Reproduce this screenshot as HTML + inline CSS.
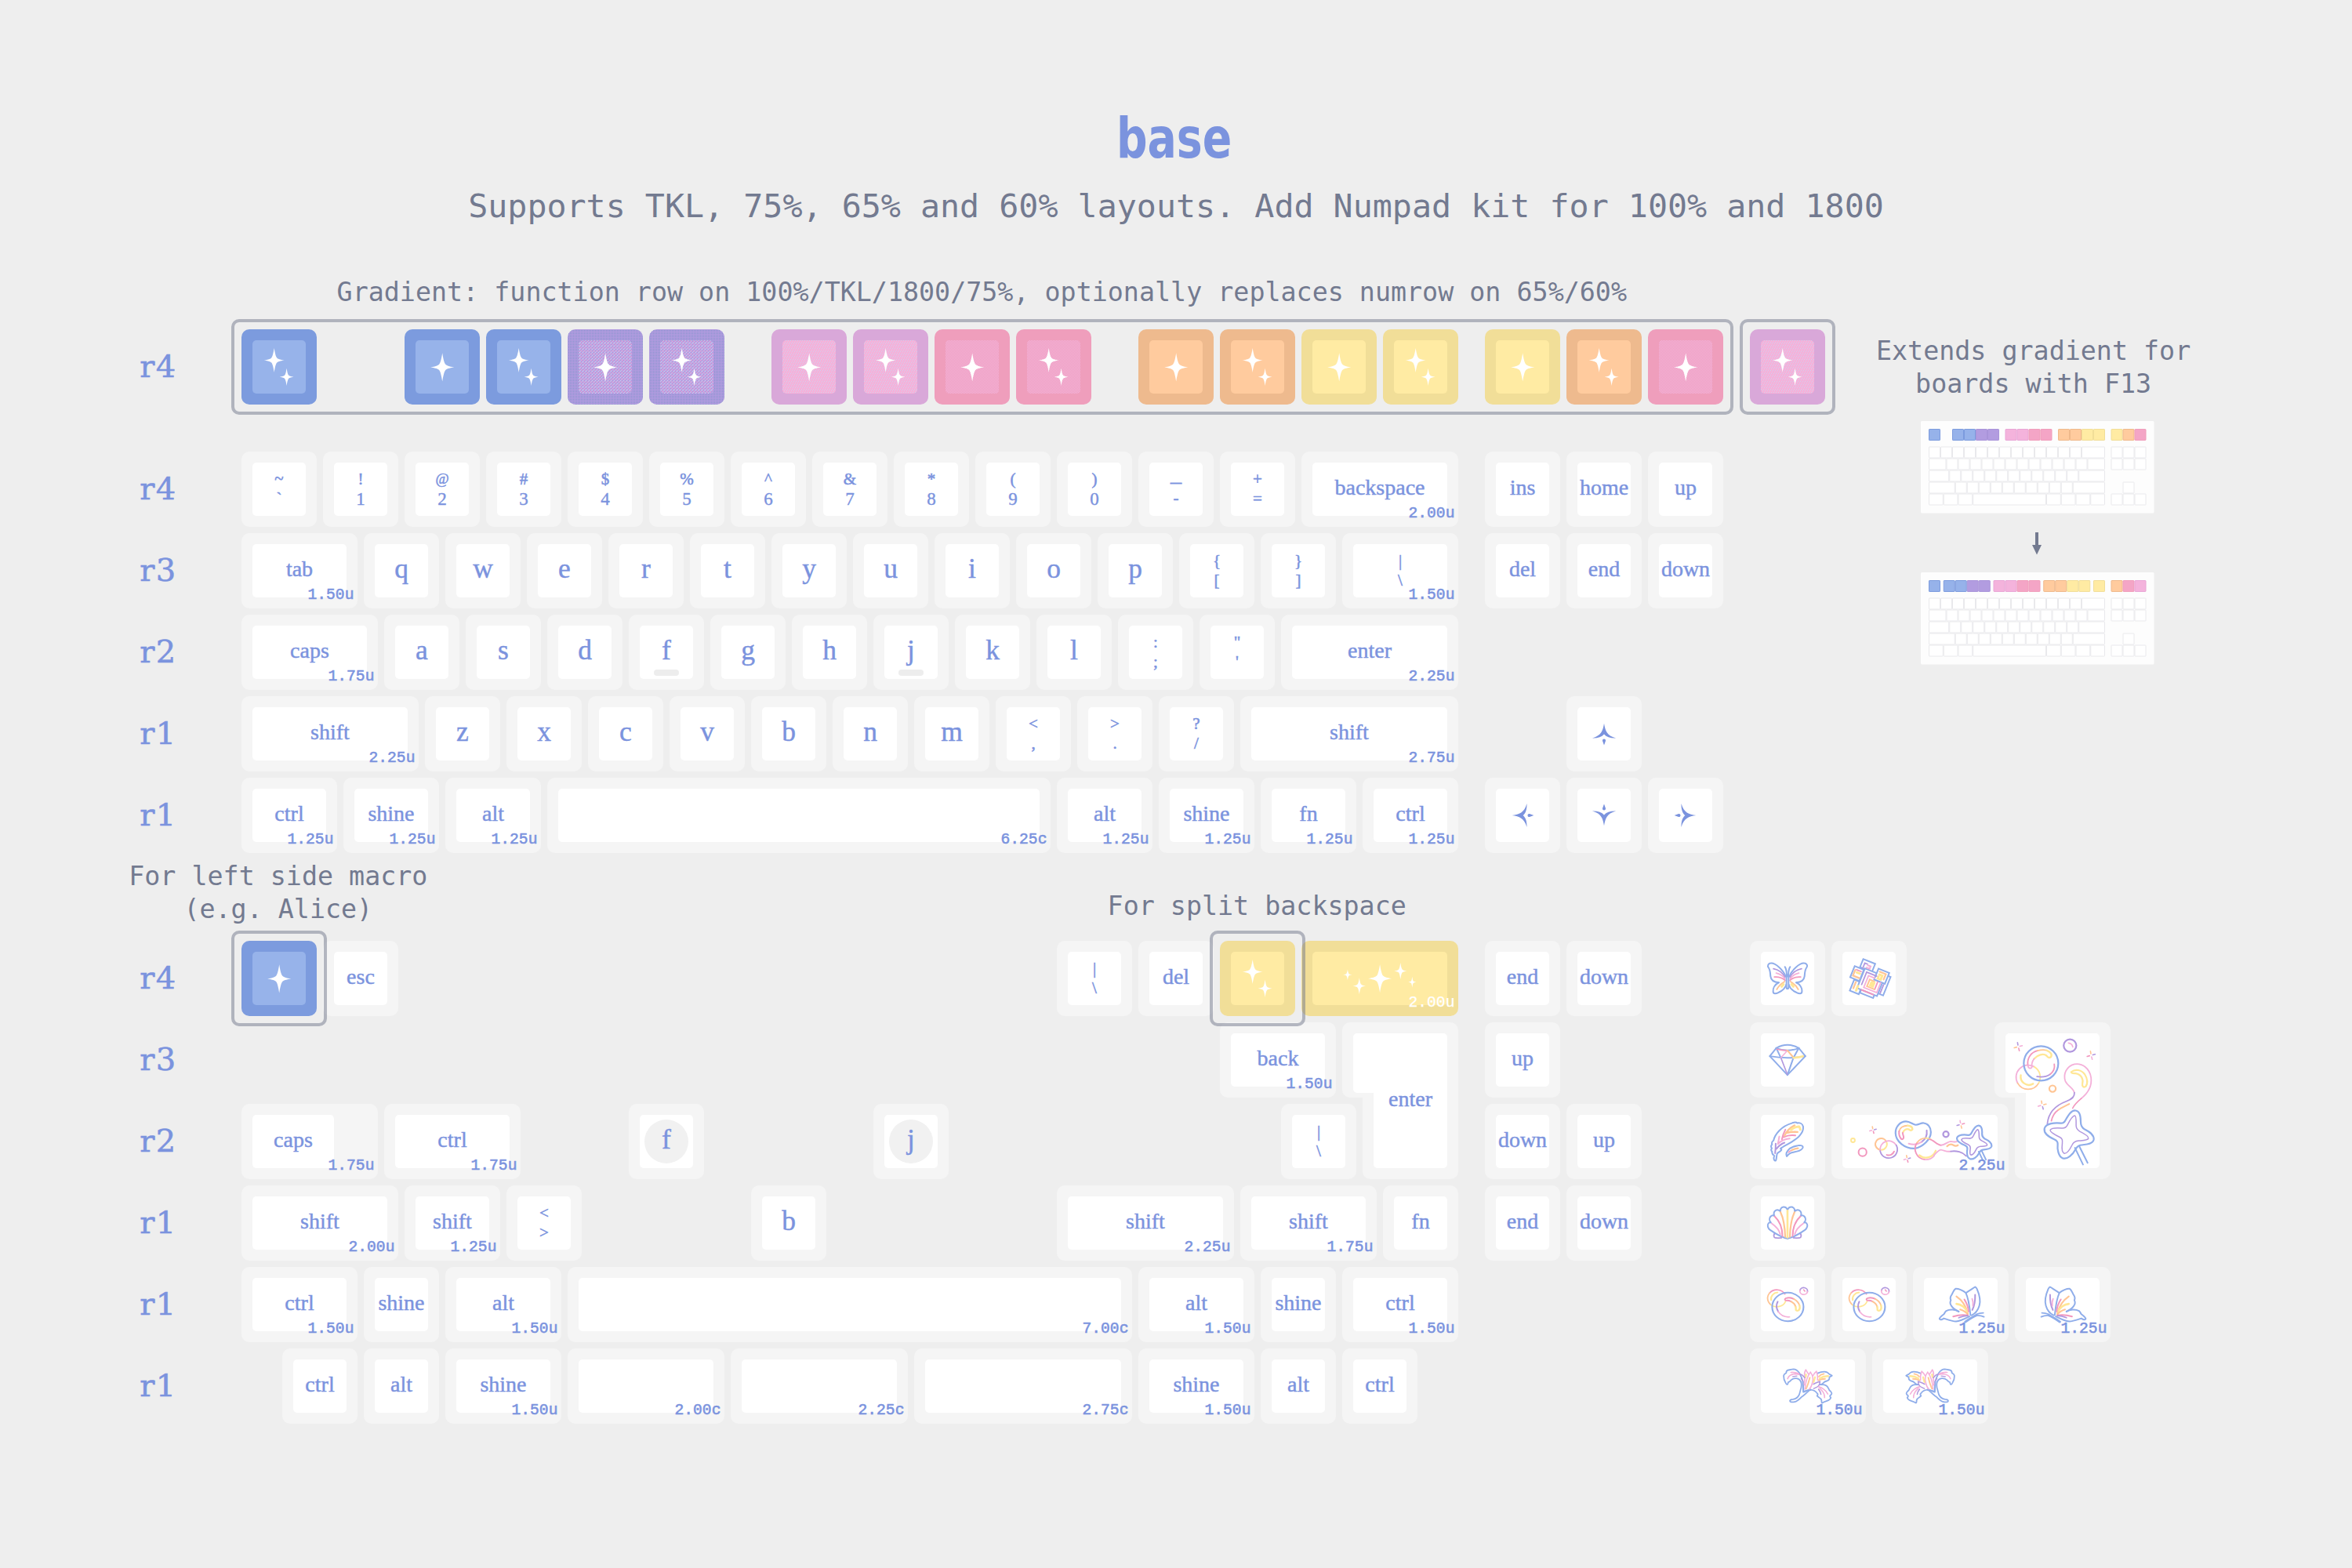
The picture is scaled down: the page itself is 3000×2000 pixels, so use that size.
<!DOCTYPE html>
<html lang="en"><head><meta charset="utf-8"><title>base</title>
<style>
html,body{margin:0;padding:0;background:#EEEEEE;}
body{width:3000px;height:2000px;overflow:hidden;}
svg{display:block;}
text{white-space:pre;}
</style></head><body>
<svg width="3000" height="2000" viewBox="0 0 3000 2000">
<defs>
<pattern id="dpo" width="4" height="4" patternUnits="userSpaceOnUse"><path d="M1 1h1v1h-1zM3 1h1v1h-1zM1 3h1v1h-1zM3 3h1v1h-1z" fill="#8495CC"/></pattern>
<pattern id="dpi" width="4" height="4" patternUnits="userSpaceOnUse"><path d="M0 0h1v1h-1zM2 2h1v1h-1zM3 1h1v1h-1z" fill="#C9D1F1"/><path d="M2 0h1v1h-1zM0 2h1v1h-1zM1 3h1v1h-1z" fill="#E8A6D6"/></pattern>
<pattern id="doi" width="3" height="6" patternUnits="userSpaceOnUse"><path d="M1 0h1v1h-1zM0 2h1v1h-1zM2 4h1v1h-1z" fill="#CBD6F1"/></pattern>
<pattern id="dki" width="2" height="2" patternUnits="userSpaceOnUse"><path d="M0 0h1v1h-1zM1 1h1v1h-1z" fill="#EF9EBC"/></pattern>
</defs>
<rect width="3000" height="2000" fill="#EEEEEE"/>
<g transform="translate(1497.6 0) scale(0.7705 1)"><text x="0" y="201.3" font-family='"DejaVu Sans", sans-serif' font-size="71.8" fill="#7B93DE" text-anchor="middle" font-weight="bold">base</text></g>
<text x="1500" y="276.6" font-family='"DejaVu Sans Mono", "Liberation Mono", monospace' font-size="41.67" fill="#737A90" text-anchor="middle">Supports TKL, 75%, 65% and 60% layouts. Add Numpad kit for 100% and 1800</text>
<text x="1252.3" y="383.6" font-family='"DejaVu Sans Mono", "Liberation Mono", monospace' font-size="33.33" fill="#737A90" text-anchor="middle">Gradient: function row on 100%/TKL/1800/75%, optionally replaces numrow on 65%/60%</text>
<text x="2593.6" y="459.3" font-family='"DejaVu Sans Mono", "Liberation Mono", monospace' font-size="33.33" fill="#737A90" text-anchor="middle">Extends gradient for</text>
<text x="2593.6" y="500.7" font-family='"DejaVu Sans Mono", "Liberation Mono", monospace' font-size="33.33" fill="#737A90" text-anchor="middle">boards with F13</text>
<text x="354.8" y="1129.2" font-family='"DejaVu Sans Mono", "Liberation Mono", monospace' font-size="33.33" fill="#737A90" text-anchor="middle">For left side macro</text>
<text x="354.8" y="1170.6" font-family='"DejaVu Sans Mono", "Liberation Mono", monospace' font-size="33.33" fill="#737A90" text-anchor="middle">(e.g. Alice)</text>
<text x="1603.2" y="1166.8" font-family='"DejaVu Sans Mono", "Liberation Mono", monospace' font-size="33.33" fill="#737A90" text-anchor="middle">For split backspace</text>
<text x="178.3" y="481" font-family='"DejaVu Serif", "Liberation Serif", serif' font-size="40" fill="#7B93DE" text-anchor="start" letter-spacing="1.4" stroke="#7B93DE" stroke-width="0.55">r4</text>
<text x="178.3" y="637" font-family='"DejaVu Serif", "Liberation Serif", serif' font-size="40" fill="#7B93DE" text-anchor="start" letter-spacing="1.4" stroke="#7B93DE" stroke-width="0.55">r4</text>
<text x="178.3" y="741" font-family='"DejaVu Serif", "Liberation Serif", serif' font-size="40" fill="#7B93DE" text-anchor="start" letter-spacing="1.4" stroke="#7B93DE" stroke-width="0.55">r3</text>
<text x="178.3" y="845" font-family='"DejaVu Serif", "Liberation Serif", serif' font-size="40" fill="#7B93DE" text-anchor="start" letter-spacing="1.4" stroke="#7B93DE" stroke-width="0.55">r2</text>
<text x="178.3" y="949" font-family='"DejaVu Serif", "Liberation Serif", serif' font-size="40" fill="#7B93DE" text-anchor="start" letter-spacing="1.4" stroke="#7B93DE" stroke-width="0.55">r1</text>
<text x="178.3" y="1053" font-family='"DejaVu Serif", "Liberation Serif", serif' font-size="40" fill="#7B93DE" text-anchor="start" letter-spacing="1.4" stroke="#7B93DE" stroke-width="0.55">r1</text>
<text x="178.3" y="1261" font-family='"DejaVu Serif", "Liberation Serif", serif' font-size="40" fill="#7B93DE" text-anchor="start" letter-spacing="1.4" stroke="#7B93DE" stroke-width="0.55">r4</text>
<text x="178.3" y="1365" font-family='"DejaVu Serif", "Liberation Serif", serif' font-size="40" fill="#7B93DE" text-anchor="start" letter-spacing="1.4" stroke="#7B93DE" stroke-width="0.55">r3</text>
<text x="178.3" y="1469" font-family='"DejaVu Serif", "Liberation Serif", serif' font-size="40" fill="#7B93DE" text-anchor="start" letter-spacing="1.4" stroke="#7B93DE" stroke-width="0.55">r2</text>
<text x="178.3" y="1573" font-family='"DejaVu Serif", "Liberation Serif", serif' font-size="40" fill="#7B93DE" text-anchor="start" letter-spacing="1.4" stroke="#7B93DE" stroke-width="0.55">r1</text>
<text x="178.3" y="1677" font-family='"DejaVu Serif", "Liberation Serif", serif' font-size="40" fill="#7B93DE" text-anchor="start" letter-spacing="1.4" stroke="#7B93DE" stroke-width="0.55">r1</text>
<text x="178.3" y="1781" font-family='"DejaVu Serif", "Liberation Serif", serif' font-size="40" fill="#7B93DE" text-anchor="start" letter-spacing="1.4" stroke="#7B93DE" stroke-width="0.55">r1</text>
<rect x="308" y="420" width="96" height="96" rx="10" fill="#7C9BDE"/>
<rect x="322" y="434" width="68" height="68" rx="5" fill="#97B3EA"/>
<path d="M349.7 444C350.6 449.5 351.6 454.6 353.2 456.4C354.4 457.6 356.9 458.75 362.7 459.5C356.9 460.25 354.4 461.4 353.2 462.6C351.6 464.4 350.6 469.5 349.7 475C348.8 469.5 347.8 464.4 346.2 462.6C345 461.4 342.5 460.25 336.7 459.5C342.5 458.75 345 457.6 346.2 456.4C347.8 454.6 348.8 449.5 349.7 444Z" fill="#FFFFFF"/>
<path d="M365.6 469.7C366.22 473.64 366.9 477.29 368 478.58C368.82 479.44 370.53 480.26 374.5 480.8C370.53 481.34 368.82 482.16 368 483.02C366.9 484.31 366.22 487.96 365.6 491.9C364.98 487.96 364.3 484.31 363.2 483.02C362.38 482.16 360.67 481.34 356.7 480.8C360.67 480.26 362.38 479.44 363.2 478.58C364.3 477.29 364.98 473.64 365.6 469.7Z" fill="#FFFFFF"/>
<rect x="516" y="420" width="96" height="96" rx="10" fill="#7C9BDE"/>
<rect x="530" y="434" width="68" height="68" rx="5" fill="#97B3EA"/>
<path d="M564.2 450.2C565.25 456.66 566.41 462.65 568.27 464.76C569.66 466.17 572.56 467.52 579.3 468.4C572.56 469.28 569.66 470.63 568.27 472.04C566.41 474.15 565.25 480.14 564.2 486.6C563.15 480.14 561.99 474.15 560.13 472.04C558.74 470.63 555.84 469.28 549.1 468.4C555.84 467.52 558.74 466.17 560.13 464.76C561.99 462.65 563.15 456.66 564.2 450.2Z" fill="#FFFFFF"/>
<rect x="620" y="420" width="96" height="96" rx="10" fill="#7C9BDE"/>
<rect x="634" y="434" width="68" height="68" rx="5" fill="#97B3EA"/>
<path d="M661.7 444C662.6 449.5 663.6 454.6 665.2 456.4C666.4 457.6 668.9 458.75 674.7 459.5C668.9 460.25 666.4 461.4 665.2 462.6C663.6 464.4 662.6 469.5 661.7 475C660.8 469.5 659.8 464.4 658.2 462.6C657 461.4 654.5 460.25 648.7 459.5C654.5 458.75 657 457.6 658.2 456.4C659.8 454.6 660.8 449.5 661.7 444Z" fill="#FFFFFF"/>
<path d="M677.6 469.7C678.22 473.64 678.9 477.29 680 478.58C680.82 479.44 682.53 480.26 686.5 480.8C682.53 481.34 680.82 482.16 680 483.02C678.9 484.31 678.22 487.96 677.6 491.9C676.98 487.96 676.3 484.31 675.2 483.02C674.38 482.16 672.67 481.34 668.7 480.8C672.67 480.26 674.38 479.44 675.2 478.58C676.3 477.29 676.98 473.64 677.6 469.7Z" fill="#FFFFFF"/>
<rect x="724" y="420" width="96" height="96" rx="10" fill="#B39BE0"/>
<rect x="724" y="420" width="96" height="96" rx="10" fill="url(#dpo)"/>
<rect x="738" y="434" width="68" height="68" rx="5" fill="#B39BE0"/>
<rect x="738" y="434" width="68" height="68" rx="5" fill="url(#dpi)"/>
<path d="M772.2 450.2C773.25 456.66 774.41 462.65 776.27 464.76C777.66 466.17 780.56 467.52 787.3 468.4C780.56 469.28 777.66 470.63 776.27 472.04C774.41 474.15 773.25 480.14 772.2 486.6C771.15 480.14 769.99 474.15 768.13 472.04C766.74 470.63 763.84 469.28 757.1 468.4C763.84 467.52 766.74 466.17 768.13 464.76C769.99 462.65 771.15 456.66 772.2 450.2Z" fill="#FFFFFF"/>
<rect x="828" y="420" width="96" height="96" rx="10" fill="#B39BE0"/>
<rect x="828" y="420" width="96" height="96" rx="10" fill="url(#dpo)"/>
<rect x="842" y="434" width="68" height="68" rx="5" fill="#B39BE0"/>
<rect x="842" y="434" width="68" height="68" rx="5" fill="url(#dpi)"/>
<path d="M869.7 444C870.6 449.5 871.6 454.6 873.2 456.4C874.4 457.6 876.9 458.75 882.7 459.5C876.9 460.25 874.4 461.4 873.2 462.6C871.6 464.4 870.6 469.5 869.7 475C868.8 469.5 867.8 464.4 866.2 462.6C865 461.4 862.5 460.25 856.7 459.5C862.5 458.75 865 457.6 866.2 456.4C867.8 454.6 868.8 449.5 869.7 444Z" fill="#FFFFFF"/>
<path d="M885.6 469.7C886.22 473.64 886.9 477.29 888 478.58C888.82 479.44 890.53 480.26 894.5 480.8C890.53 481.34 888.82 482.16 888 483.02C886.9 484.31 886.22 487.96 885.6 491.9C884.98 487.96 884.3 484.31 883.2 483.02C882.38 482.16 880.67 481.34 876.7 480.8C880.67 480.26 882.38 479.44 883.2 478.58C884.3 477.29 884.98 473.64 885.6 469.7Z" fill="#FFFFFF"/>
<rect x="984" y="420" width="96" height="96" rx="10" fill="#D9A8D9"/>
<rect x="998" y="434" width="68" height="68" rx="5" fill="#F6B0D9"/>
<rect x="998" y="434" width="68" height="68" rx="5" fill="url(#doi)"/>
<path d="M1032.2 450.2C1033.25 456.66 1034.41 462.65 1036.27 464.76C1037.66 466.17 1040.56 467.52 1047.3 468.4C1040.56 469.28 1037.66 470.63 1036.27 472.04C1034.41 474.15 1033.25 480.14 1032.2 486.6C1031.15 480.14 1029.99 474.15 1028.13 472.04C1026.74 470.63 1023.84 469.28 1017.1 468.4C1023.84 467.52 1026.74 466.17 1028.13 464.76C1029.99 462.65 1031.15 456.66 1032.2 450.2Z" fill="#FFFFFF"/>
<rect x="1088" y="420" width="96" height="96" rx="10" fill="#D9A8D9"/>
<rect x="1102" y="434" width="68" height="68" rx="5" fill="#F6B0D9"/>
<rect x="1102" y="434" width="68" height="68" rx="5" fill="url(#doi)"/>
<path d="M1129.7 444C1130.6 449.5 1131.6 454.6 1133.2 456.4C1134.4 457.6 1136.9 458.75 1142.7 459.5C1136.9 460.25 1134.4 461.4 1133.2 462.6C1131.6 464.4 1130.6 469.5 1129.7 475C1128.8 469.5 1127.8 464.4 1126.2 462.6C1125 461.4 1122.5 460.25 1116.7 459.5C1122.5 458.75 1125 457.6 1126.2 456.4C1127.8 454.6 1128.8 449.5 1129.7 444Z" fill="#FFFFFF"/>
<path d="M1145.6 469.7C1146.22 473.64 1146.9 477.29 1148 478.58C1148.82 479.44 1150.53 480.26 1154.5 480.8C1150.53 481.34 1148.82 482.16 1148 483.02C1146.9 484.31 1146.22 487.96 1145.6 491.9C1144.98 487.96 1144.3 484.31 1143.2 483.02C1142.38 482.16 1140.67 481.34 1136.7 480.8C1140.67 480.26 1142.38 479.44 1143.2 478.58C1144.3 477.29 1144.98 473.64 1145.6 469.7Z" fill="#FFFFFF"/>
<rect x="1192" y="420" width="96" height="96" rx="10" fill="#EF9EBC"/>
<rect x="1206" y="434" width="68" height="68" rx="5" fill="#F3B3DC"/>
<rect x="1206" y="434" width="68" height="68" rx="5" fill="url(#dki)"/>
<path d="M1240.2 450.2C1241.25 456.66 1242.41 462.65 1244.27 464.76C1245.66 466.17 1248.56 467.52 1255.3 468.4C1248.56 469.28 1245.66 470.63 1244.27 472.04C1242.41 474.15 1241.25 480.14 1240.2 486.6C1239.15 480.14 1237.99 474.15 1236.13 472.04C1234.74 470.63 1231.84 469.28 1225.1 468.4C1231.84 467.52 1234.74 466.17 1236.13 464.76C1237.99 462.65 1239.15 456.66 1240.2 450.2Z" fill="#FFFFFF"/>
<rect x="1296" y="420" width="96" height="96" rx="10" fill="#EF9EBC"/>
<rect x="1310" y="434" width="68" height="68" rx="5" fill="#F3B3DC"/>
<rect x="1310" y="434" width="68" height="68" rx="5" fill="url(#dki)"/>
<path d="M1337.7 444C1338.6 449.5 1339.6 454.6 1341.2 456.4C1342.4 457.6 1344.9 458.75 1350.7 459.5C1344.9 460.25 1342.4 461.4 1341.2 462.6C1339.6 464.4 1338.6 469.5 1337.7 475C1336.8 469.5 1335.8 464.4 1334.2 462.6C1333 461.4 1330.5 460.25 1324.7 459.5C1330.5 458.75 1333 457.6 1334.2 456.4C1335.8 454.6 1336.8 449.5 1337.7 444Z" fill="#FFFFFF"/>
<path d="M1353.6 469.7C1354.22 473.64 1354.9 477.29 1356 478.58C1356.82 479.44 1358.53 480.26 1362.5 480.8C1358.53 481.34 1356.82 482.16 1356 483.02C1354.9 484.31 1354.22 487.96 1353.6 491.9C1352.98 487.96 1352.3 484.31 1351.2 483.02C1350.38 482.16 1348.67 481.34 1344.7 480.8C1348.67 480.26 1350.38 479.44 1351.2 478.58C1352.3 477.29 1352.98 473.64 1353.6 469.7Z" fill="#FFFFFF"/>
<rect x="1452" y="420" width="96" height="96" rx="10" fill="#EEBA8E"/>
<rect x="1466" y="434" width="68" height="68" rx="5" fill="#FFCB9E"/>
<path d="M1500.2 450.2C1501.25 456.66 1502.41 462.65 1504.27 464.76C1505.66 466.17 1508.56 467.52 1515.3 468.4C1508.56 469.28 1505.66 470.63 1504.27 472.04C1502.41 474.15 1501.25 480.14 1500.2 486.6C1499.15 480.14 1497.99 474.15 1496.13 472.04C1494.74 470.63 1491.84 469.28 1485.1 468.4C1491.84 467.52 1494.74 466.17 1496.13 464.76C1497.99 462.65 1499.15 456.66 1500.2 450.2Z" fill="#FFFFFF"/>
<rect x="1556" y="420" width="96" height="96" rx="10" fill="#EEBA8E"/>
<rect x="1570" y="434" width="68" height="68" rx="5" fill="#FFCB9E"/>
<path d="M1597.7 444C1598.6 449.5 1599.6 454.6 1601.2 456.4C1602.4 457.6 1604.9 458.75 1610.7 459.5C1604.9 460.25 1602.4 461.4 1601.2 462.6C1599.6 464.4 1598.6 469.5 1597.7 475C1596.8 469.5 1595.8 464.4 1594.2 462.6C1593 461.4 1590.5 460.25 1584.7 459.5C1590.5 458.75 1593 457.6 1594.2 456.4C1595.8 454.6 1596.8 449.5 1597.7 444Z" fill="#FFFFFF"/>
<path d="M1613.6 469.7C1614.22 473.64 1614.9 477.29 1616 478.58C1616.82 479.44 1618.53 480.26 1622.5 480.8C1618.53 481.34 1616.82 482.16 1616 483.02C1614.9 484.31 1614.22 487.96 1613.6 491.9C1612.98 487.96 1612.3 484.31 1611.2 483.02C1610.38 482.16 1608.67 481.34 1604.7 480.8C1608.67 480.26 1610.38 479.44 1611.2 478.58C1612.3 477.29 1612.98 473.64 1613.6 469.7Z" fill="#FFFFFF"/>
<rect x="1660" y="420" width="96" height="96" rx="10" fill="#F1DE98"/>
<rect x="1674" y="434" width="68" height="68" rx="5" fill="#FFEBA3"/>
<path d="M1708.2 450.2C1709.25 456.66 1710.41 462.65 1712.27 464.76C1713.66 466.17 1716.56 467.52 1723.3 468.4C1716.56 469.28 1713.66 470.63 1712.27 472.04C1710.41 474.15 1709.25 480.14 1708.2 486.6C1707.15 480.14 1705.99 474.15 1704.13 472.04C1702.74 470.63 1699.84 469.28 1693.1 468.4C1699.84 467.52 1702.74 466.17 1704.13 464.76C1705.99 462.65 1707.15 456.66 1708.2 450.2Z" fill="#FFFFFF"/>
<rect x="1764" y="420" width="96" height="96" rx="10" fill="#F1DE98"/>
<rect x="1778" y="434" width="68" height="68" rx="5" fill="#FFEBA3"/>
<path d="M1805.7 444C1806.6 449.5 1807.6 454.6 1809.2 456.4C1810.4 457.6 1812.9 458.75 1818.7 459.5C1812.9 460.25 1810.4 461.4 1809.2 462.6C1807.6 464.4 1806.6 469.5 1805.7 475C1804.8 469.5 1803.8 464.4 1802.2 462.6C1801 461.4 1798.5 460.25 1792.7 459.5C1798.5 458.75 1801 457.6 1802.2 456.4C1803.8 454.6 1804.8 449.5 1805.7 444Z" fill="#FFFFFF"/>
<path d="M1821.6 469.7C1822.22 473.64 1822.9 477.29 1824 478.58C1824.82 479.44 1826.53 480.26 1830.5 480.8C1826.53 481.34 1824.82 482.16 1824 483.02C1822.9 484.31 1822.22 487.96 1821.6 491.9C1820.98 487.96 1820.3 484.31 1819.2 483.02C1818.38 482.16 1816.67 481.34 1812.7 480.8C1816.67 480.26 1818.38 479.44 1819.2 478.58C1820.3 477.29 1820.98 473.64 1821.6 469.7Z" fill="#FFFFFF"/>
<rect x="1894" y="420" width="96" height="96" rx="10" fill="#F1DE98"/>
<rect x="1908" y="434" width="68" height="68" rx="5" fill="#FFEBA3"/>
<path d="M1942.2 450.2C1943.25 456.66 1944.41 462.65 1946.27 464.76C1947.66 466.17 1950.56 467.52 1957.3 468.4C1950.56 469.28 1947.66 470.63 1946.27 472.04C1944.41 474.15 1943.25 480.14 1942.2 486.6C1941.15 480.14 1939.99 474.15 1938.13 472.04C1936.74 470.63 1933.84 469.28 1927.1 468.4C1933.84 467.52 1936.74 466.17 1938.13 464.76C1939.99 462.65 1941.15 456.66 1942.2 450.2Z" fill="#FFFFFF"/>
<rect x="1998" y="420" width="96" height="96" rx="10" fill="#EEBA8E"/>
<rect x="2012" y="434" width="68" height="68" rx="5" fill="#FFCB9E"/>
<path d="M2039.7 444C2040.6 449.5 2041.6 454.6 2043.2 456.4C2044.4 457.6 2046.9 458.75 2052.7 459.5C2046.9 460.25 2044.4 461.4 2043.2 462.6C2041.6 464.4 2040.6 469.5 2039.7 475C2038.8 469.5 2037.8 464.4 2036.2 462.6C2035 461.4 2032.5 460.25 2026.7 459.5C2032.5 458.75 2035 457.6 2036.2 456.4C2037.8 454.6 2038.8 449.5 2039.7 444Z" fill="#FFFFFF"/>
<path d="M2055.6 469.7C2056.22 473.64 2056.9 477.29 2058 478.58C2058.82 479.44 2060.53 480.26 2064.5 480.8C2060.53 481.34 2058.82 482.16 2058 483.02C2056.9 484.31 2056.22 487.96 2055.6 491.9C2054.98 487.96 2054.3 484.31 2053.2 483.02C2052.38 482.16 2050.67 481.34 2046.7 480.8C2050.67 480.26 2052.38 479.44 2053.2 478.58C2054.3 477.29 2054.98 473.64 2055.6 469.7Z" fill="#FFFFFF"/>
<rect x="2102" y="420" width="96" height="96" rx="10" fill="#EF9EBC"/>
<rect x="2116" y="434" width="68" height="68" rx="5" fill="#F3B3DC"/>
<rect x="2116" y="434" width="68" height="68" rx="5" fill="url(#dki)"/>
<path d="M2150.2 450.2C2151.25 456.66 2152.41 462.65 2154.27 464.76C2155.66 466.17 2158.56 467.52 2165.3 468.4C2158.56 469.28 2155.66 470.63 2154.27 472.04C2152.41 474.15 2151.25 480.14 2150.2 486.6C2149.15 480.14 2147.99 474.15 2146.13 472.04C2144.74 470.63 2141.84 469.28 2135.1 468.4C2141.84 467.52 2144.74 466.17 2146.13 464.76C2147.99 462.65 2149.15 456.66 2150.2 450.2Z" fill="#FFFFFF"/>
<rect x="2232" y="420" width="96" height="96" rx="10" fill="#D9A8D9"/>
<rect x="2246" y="434" width="68" height="68" rx="5" fill="#F6B0D9"/>
<rect x="2246" y="434" width="68" height="68" rx="5" fill="url(#doi)"/>
<path d="M2273.7 444C2274.6 449.5 2275.6 454.6 2277.2 456.4C2278.4 457.6 2280.9 458.75 2286.7 459.5C2280.9 460.25 2278.4 461.4 2277.2 462.6C2275.6 464.4 2274.6 469.5 2273.7 475C2272.8 469.5 2271.8 464.4 2270.2 462.6C2269 461.4 2266.5 460.25 2260.7 459.5C2266.5 458.75 2269 457.6 2270.2 456.4C2271.8 454.6 2272.8 449.5 2273.7 444Z" fill="#FFFFFF"/>
<path d="M2289.6 469.7C2290.22 473.64 2290.9 477.29 2292 478.58C2292.82 479.44 2294.53 480.26 2298.5 480.8C2294.53 481.34 2292.82 482.16 2292 483.02C2290.9 484.31 2290.22 487.96 2289.6 491.9C2288.98 487.96 2288.3 484.31 2287.2 483.02C2286.38 482.16 2284.67 481.34 2280.7 480.8C2284.67 480.26 2286.38 479.44 2287.2 478.58C2288.3 477.29 2288.98 473.64 2289.6 469.7Z" fill="#FFFFFF"/>
<rect x="308" y="576" width="96" height="96" rx="10" fill="#F5F5F5"/>
<rect x="322" y="590" width="68" height="68" rx="5" fill="#FFFFFF"/>
<text x="356" y="616.9" font-family='"Liberation Serif", serif' font-size="21" fill="#7B93DE" text-anchor="middle" stroke="#7B93DE" stroke-width="0.55">~</text>
<text x="356" y="643.4" font-family='"Liberation Serif", serif' font-size="21" fill="#7B93DE" text-anchor="middle" stroke="#7B93DE" stroke-width="0.55">`</text>
<rect x="412" y="576" width="96" height="96" rx="10" fill="#F5F5F5"/>
<rect x="426" y="590" width="68" height="68" rx="5" fill="#FFFFFF"/>
<text x="460" y="618.4" font-family='"Liberation Serif", serif' font-size="21" fill="#7B93DE" text-anchor="middle" stroke="#7B93DE" stroke-width="0.55">!</text>
<text x="460" y="644" font-family='"Liberation Serif", serif' font-size="23" fill="#7B93DE" text-anchor="middle" stroke="#7B93DE" stroke-width="0.4">1</text>
<rect x="516" y="576" width="96" height="96" rx="10" fill="#F5F5F5"/>
<rect x="530" y="590" width="68" height="68" rx="5" fill="#FFFFFF"/>
<text x="564" y="617.2" font-family='"Liberation Serif", serif' font-size="18.6" fill="#7B93DE" text-anchor="middle" stroke="#7B93DE" stroke-width="0.55">@</text>
<text x="564" y="644" font-family='"Liberation Serif", serif' font-size="23" fill="#7B93DE" text-anchor="middle" stroke="#7B93DE" stroke-width="0.4">2</text>
<rect x="620" y="576" width="96" height="96" rx="10" fill="#F5F5F5"/>
<rect x="634" y="590" width="68" height="68" rx="5" fill="#FFFFFF"/>
<text x="668" y="618.4" font-family='"Liberation Serif", serif' font-size="21" fill="#7B93DE" text-anchor="middle" stroke="#7B93DE" stroke-width="0.55">#</text>
<text x="668" y="644" font-family='"Liberation Serif", serif' font-size="23" fill="#7B93DE" text-anchor="middle" stroke="#7B93DE" stroke-width="0.4">3</text>
<rect x="724" y="576" width="96" height="96" rx="10" fill="#F5F5F5"/>
<rect x="738" y="590" width="68" height="68" rx="5" fill="#FFFFFF"/>
<text x="772" y="618.4" font-family='"Liberation Serif", serif' font-size="21" fill="#7B93DE" text-anchor="middle" stroke="#7B93DE" stroke-width="0.55">$</text>
<text x="772" y="644" font-family='"Liberation Serif", serif' font-size="23" fill="#7B93DE" text-anchor="middle" stroke="#7B93DE" stroke-width="0.4">4</text>
<rect x="828" y="576" width="96" height="96" rx="10" fill="#F5F5F5"/>
<rect x="842" y="590" width="68" height="68" rx="5" fill="#FFFFFF"/>
<text x="876" y="618.4" font-family='"Liberation Serif", serif' font-size="21" fill="#7B93DE" text-anchor="middle" stroke="#7B93DE" stroke-width="0.55">%</text>
<text x="876" y="644" font-family='"Liberation Serif", serif' font-size="23" fill="#7B93DE" text-anchor="middle" stroke="#7B93DE" stroke-width="0.4">5</text>
<rect x="932" y="576" width="96" height="96" rx="10" fill="#F5F5F5"/>
<rect x="946" y="590" width="68" height="68" rx="5" fill="#FFFFFF"/>
<text x="980" y="618.4" font-family='"Liberation Serif", serif' font-size="21" fill="#7B93DE" text-anchor="middle" stroke="#7B93DE" stroke-width="0.55">^</text>
<text x="980" y="644" font-family='"Liberation Serif", serif' font-size="23" fill="#7B93DE" text-anchor="middle" stroke="#7B93DE" stroke-width="0.4">6</text>
<rect x="1036" y="576" width="96" height="96" rx="10" fill="#F5F5F5"/>
<rect x="1050" y="590" width="68" height="68" rx="5" fill="#FFFFFF"/>
<text x="1084" y="618.4" font-family='"Liberation Serif", serif' font-size="21" fill="#7B93DE" text-anchor="middle" stroke="#7B93DE" stroke-width="0.55">&amp;</text>
<text x="1084" y="644" font-family='"Liberation Serif", serif' font-size="23" fill="#7B93DE" text-anchor="middle" stroke="#7B93DE" stroke-width="0.4">7</text>
<rect x="1140" y="576" width="96" height="96" rx="10" fill="#F5F5F5"/>
<rect x="1154" y="590" width="68" height="68" rx="5" fill="#FFFFFF"/>
<text x="1188" y="618.4" font-family='"Liberation Serif", serif' font-size="21" fill="#7B93DE" text-anchor="middle" stroke="#7B93DE" stroke-width="0.55">*</text>
<text x="1188" y="644" font-family='"Liberation Serif", serif' font-size="23" fill="#7B93DE" text-anchor="middle" stroke="#7B93DE" stroke-width="0.4">8</text>
<rect x="1244" y="576" width="96" height="96" rx="10" fill="#F5F5F5"/>
<rect x="1258" y="590" width="68" height="68" rx="5" fill="#FFFFFF"/>
<text x="1292" y="618.4" font-family='"Liberation Serif", serif' font-size="21" fill="#7B93DE" text-anchor="middle" stroke="#7B93DE" stroke-width="0.55">(</text>
<text x="1292" y="644" font-family='"Liberation Serif", serif' font-size="23" fill="#7B93DE" text-anchor="middle" stroke="#7B93DE" stroke-width="0.4">9</text>
<rect x="1348" y="576" width="96" height="96" rx="10" fill="#F5F5F5"/>
<rect x="1362" y="590" width="68" height="68" rx="5" fill="#FFFFFF"/>
<text x="1396" y="618.4" font-family='"Liberation Serif", serif' font-size="21" fill="#7B93DE" text-anchor="middle" stroke="#7B93DE" stroke-width="0.55">)</text>
<text x="1396" y="644" font-family='"Liberation Serif", serif' font-size="23" fill="#7B93DE" text-anchor="middle" stroke="#7B93DE" stroke-width="0.4">0</text>
<rect x="1452" y="576" width="96" height="96" rx="10" fill="#F5F5F5"/>
<rect x="1466" y="590" width="68" height="68" rx="5" fill="#FFFFFF"/>
<text x="1500" y="613.6" font-family='"Liberation Serif", serif' font-size="29" fill="#7B93DE" text-anchor="middle" stroke="#7B93DE" stroke-width="0.3">_</text>
<text x="1500" y="641.6" font-family='"Liberation Serif", serif' font-size="21" fill="#7B93DE" text-anchor="middle" stroke="#7B93DE" stroke-width="0.55">-</text>
<rect x="1556" y="576" width="96" height="96" rx="10" fill="#F5F5F5"/>
<rect x="1570" y="590" width="68" height="68" rx="5" fill="#FFFFFF"/>
<text x="1604" y="618.4" font-family='"Liberation Serif", serif' font-size="21" fill="#7B93DE" text-anchor="middle" stroke="#7B93DE" stroke-width="0.55">+</text>
<text x="1604" y="643.4" font-family='"Liberation Serif", serif' font-size="21" fill="#7B93DE" text-anchor="middle" stroke="#7B93DE" stroke-width="0.55">=</text>
<rect x="1660" y="576" width="200" height="96" rx="10" fill="#F5F5F5"/>
<rect x="1674" y="590" width="172" height="68" rx="5" fill="#FFFFFF"/>
<text x="1760" y="630.6" font-family='"Liberation Serif", serif' font-size="28" fill="#7B93DE" text-anchor="middle" stroke="#7B93DE" stroke-width="0.45">backspace</text>
<text x="1855.4" y="660" font-family='"Liberation Mono", monospace' font-size="19.6" fill="#7B93DE" text-anchor="end" stroke="#7B93DE" stroke-width="0.6">2.00u</text>
<rect x="1894" y="576" width="96" height="96" rx="10" fill="#F5F5F5"/>
<rect x="1908" y="590" width="68" height="68" rx="5" fill="#FFFFFF"/>
<text x="1942" y="630.6" font-family='"Liberation Serif", serif' font-size="28" fill="#7B93DE" text-anchor="middle" stroke="#7B93DE" stroke-width="0.45">ins</text>
<rect x="1998" y="576" width="96" height="96" rx="10" fill="#F5F5F5"/>
<rect x="2012" y="590" width="68" height="68" rx="5" fill="#FFFFFF"/>
<text x="2046" y="630.6" font-family='"Liberation Serif", serif' font-size="28" fill="#7B93DE" text-anchor="middle" stroke="#7B93DE" stroke-width="0.45">home</text>
<rect x="2102" y="576" width="96" height="96" rx="10" fill="#F5F5F5"/>
<rect x="2116" y="590" width="68" height="68" rx="5" fill="#FFFFFF"/>
<text x="2150" y="630.6" font-family='"Liberation Serif", serif' font-size="28" fill="#7B93DE" text-anchor="middle" stroke="#7B93DE" stroke-width="0.45">up</text>
<rect x="308" y="680" width="148" height="96" rx="10" fill="#F5F5F5"/>
<rect x="322" y="694" width="120" height="68" rx="5" fill="#FFFFFF"/>
<text x="382" y="734.6" font-family='"Liberation Serif", serif' font-size="28" fill="#7B93DE" text-anchor="middle" stroke="#7B93DE" stroke-width="0.45">tab</text>
<text x="451.4" y="764" font-family='"Liberation Mono", monospace' font-size="19.6" fill="#7B93DE" text-anchor="end" stroke="#7B93DE" stroke-width="0.6">1.50u</text>
<rect x="464" y="680" width="96" height="96" rx="10" fill="#F5F5F5"/>
<rect x="478" y="694" width="68" height="68" rx="5" fill="#FFFFFF"/>
<text x="512" y="736.5" font-family='"Liberation Serif", serif' font-size="35.5" fill="#7B93DE" text-anchor="middle" stroke="#7B93DE" stroke-width="0.45">q</text>
<rect x="568" y="680" width="96" height="96" rx="10" fill="#F5F5F5"/>
<rect x="582" y="694" width="68" height="68" rx="5" fill="#FFFFFF"/>
<text x="616" y="736.5" font-family='"Liberation Serif", serif' font-size="35.5" fill="#7B93DE" text-anchor="middle" stroke="#7B93DE" stroke-width="0.45">w</text>
<rect x="672" y="680" width="96" height="96" rx="10" fill="#F5F5F5"/>
<rect x="686" y="694" width="68" height="68" rx="5" fill="#FFFFFF"/>
<text x="720" y="736.5" font-family='"Liberation Serif", serif' font-size="35.5" fill="#7B93DE" text-anchor="middle" stroke="#7B93DE" stroke-width="0.45">e</text>
<rect x="776" y="680" width="96" height="96" rx="10" fill="#F5F5F5"/>
<rect x="790" y="694" width="68" height="68" rx="5" fill="#FFFFFF"/>
<text x="824" y="736.5" font-family='"Liberation Serif", serif' font-size="35.5" fill="#7B93DE" text-anchor="middle" stroke="#7B93DE" stroke-width="0.45">r</text>
<rect x="880" y="680" width="96" height="96" rx="10" fill="#F5F5F5"/>
<rect x="894" y="694" width="68" height="68" rx="5" fill="#FFFFFF"/>
<text x="928" y="736.5" font-family='"Liberation Serif", serif' font-size="35.5" fill="#7B93DE" text-anchor="middle" stroke="#7B93DE" stroke-width="0.45">t</text>
<rect x="984" y="680" width="96" height="96" rx="10" fill="#F5F5F5"/>
<rect x="998" y="694" width="68" height="68" rx="5" fill="#FFFFFF"/>
<text x="1032" y="736.5" font-family='"Liberation Serif", serif' font-size="35.5" fill="#7B93DE" text-anchor="middle" stroke="#7B93DE" stroke-width="0.45">y</text>
<rect x="1088" y="680" width="96" height="96" rx="10" fill="#F5F5F5"/>
<rect x="1102" y="694" width="68" height="68" rx="5" fill="#FFFFFF"/>
<text x="1136" y="736.5" font-family='"Liberation Serif", serif' font-size="35.5" fill="#7B93DE" text-anchor="middle" stroke="#7B93DE" stroke-width="0.45">u</text>
<rect x="1192" y="680" width="96" height="96" rx="10" fill="#F5F5F5"/>
<rect x="1206" y="694" width="68" height="68" rx="5" fill="#FFFFFF"/>
<text x="1240" y="736.5" font-family='"Liberation Serif", serif' font-size="35.5" fill="#7B93DE" text-anchor="middle" stroke="#7B93DE" stroke-width="0.45">i</text>
<rect x="1296" y="680" width="96" height="96" rx="10" fill="#F5F5F5"/>
<rect x="1310" y="694" width="68" height="68" rx="5" fill="#FFFFFF"/>
<text x="1344" y="736.5" font-family='"Liberation Serif", serif' font-size="35.5" fill="#7B93DE" text-anchor="middle" stroke="#7B93DE" stroke-width="0.45">o</text>
<rect x="1400" y="680" width="96" height="96" rx="10" fill="#F5F5F5"/>
<rect x="1414" y="694" width="68" height="68" rx="5" fill="#FFFFFF"/>
<text x="1448" y="736.5" font-family='"Liberation Serif", serif' font-size="35.5" fill="#7B93DE" text-anchor="middle" stroke="#7B93DE" stroke-width="0.45">p</text>
<rect x="1504" y="680" width="96" height="96" rx="10" fill="#F5F5F5"/>
<rect x="1518" y="694" width="68" height="68" rx="5" fill="#FFFFFF"/>
<text x="1552" y="722.4" font-family='"Liberation Serif", serif' font-size="21" fill="#7B93DE" text-anchor="middle" stroke="#7B93DE" stroke-width="0.55">{</text>
<text x="1552" y="747.4" font-family='"Liberation Serif", serif' font-size="21" fill="#7B93DE" text-anchor="middle" stroke="#7B93DE" stroke-width="0.55">[</text>
<rect x="1608" y="680" width="96" height="96" rx="10" fill="#F5F5F5"/>
<rect x="1622" y="694" width="68" height="68" rx="5" fill="#FFFFFF"/>
<text x="1656" y="722.4" font-family='"Liberation Serif", serif' font-size="21" fill="#7B93DE" text-anchor="middle" stroke="#7B93DE" stroke-width="0.55">}</text>
<text x="1656" y="747.4" font-family='"Liberation Serif", serif' font-size="21" fill="#7B93DE" text-anchor="middle" stroke="#7B93DE" stroke-width="0.55">]</text>
<rect x="1712" y="680" width="148" height="96" rx="10" fill="#F5F5F5"/>
<rect x="1726" y="694" width="120" height="68" rx="5" fill="#FFFFFF"/>
<text x="1786" y="722.4" font-family='"Liberation Serif", serif' font-size="21" fill="#7B93DE" text-anchor="middle" stroke="#7B93DE" stroke-width="0.55">|</text>
<text x="1786" y="747.4" font-family='"Liberation Serif", serif' font-size="21" fill="#7B93DE" text-anchor="middle" stroke="#7B93DE" stroke-width="0.55">\</text>
<text x="1855.4" y="764" font-family='"Liberation Mono", monospace' font-size="19.6" fill="#7B93DE" text-anchor="end" stroke="#7B93DE" stroke-width="0.6">1.50u</text>
<rect x="1894" y="680" width="96" height="96" rx="10" fill="#F5F5F5"/>
<rect x="1908" y="694" width="68" height="68" rx="5" fill="#FFFFFF"/>
<text x="1942" y="734.6" font-family='"Liberation Serif", serif' font-size="28" fill="#7B93DE" text-anchor="middle" stroke="#7B93DE" stroke-width="0.45">del</text>
<rect x="1998" y="680" width="96" height="96" rx="10" fill="#F5F5F5"/>
<rect x="2012" y="694" width="68" height="68" rx="5" fill="#FFFFFF"/>
<text x="2046" y="734.6" font-family='"Liberation Serif", serif' font-size="28" fill="#7B93DE" text-anchor="middle" stroke="#7B93DE" stroke-width="0.45">end</text>
<rect x="2102" y="680" width="96" height="96" rx="10" fill="#F5F5F5"/>
<rect x="2116" y="694" width="68" height="68" rx="5" fill="#FFFFFF"/>
<text x="2150" y="734.6" font-family='"Liberation Serif", serif' font-size="28" fill="#7B93DE" text-anchor="middle" stroke="#7B93DE" stroke-width="0.45">down</text>
<rect x="308" y="784" width="174" height="96" rx="10" fill="#F5F5F5"/>
<rect x="322" y="798" width="146" height="68" rx="5" fill="#FFFFFF"/>
<text x="395" y="838.6" font-family='"Liberation Serif", serif' font-size="28" fill="#7B93DE" text-anchor="middle" stroke="#7B93DE" stroke-width="0.45">caps</text>
<text x="477.4" y="868" font-family='"Liberation Mono", monospace' font-size="19.6" fill="#7B93DE" text-anchor="end" stroke="#7B93DE" stroke-width="0.6">1.75u</text>
<rect x="490" y="784" width="96" height="96" rx="10" fill="#F5F5F5"/>
<rect x="504" y="798" width="68" height="68" rx="5" fill="#FFFFFF"/>
<text x="538" y="840.5" font-family='"Liberation Serif", serif' font-size="35.5" fill="#7B93DE" text-anchor="middle" stroke="#7B93DE" stroke-width="0.45">a</text>
<rect x="594" y="784" width="96" height="96" rx="10" fill="#F5F5F5"/>
<rect x="608" y="798" width="68" height="68" rx="5" fill="#FFFFFF"/>
<text x="642" y="840.5" font-family='"Liberation Serif", serif' font-size="35.5" fill="#7B93DE" text-anchor="middle" stroke="#7B93DE" stroke-width="0.45">s</text>
<rect x="698" y="784" width="96" height="96" rx="10" fill="#F5F5F5"/>
<rect x="712" y="798" width="68" height="68" rx="5" fill="#FFFFFF"/>
<text x="746" y="840.5" font-family='"Liberation Serif", serif' font-size="35.5" fill="#7B93DE" text-anchor="middle" stroke="#7B93DE" stroke-width="0.45">d</text>
<rect x="802" y="784" width="96" height="96" rx="10" fill="#F5F5F5"/>
<rect x="816" y="798" width="68" height="68" rx="5" fill="#FFFFFF"/>
<text x="850" y="840.5" font-family='"Liberation Serif", serif' font-size="35.5" fill="#7B93DE" text-anchor="middle" stroke="#7B93DE" stroke-width="0.45">f</text>
<rect x="834" y="854" width="32" height="8" rx="4" fill="#EDEDED"/>
<rect x="906" y="784" width="96" height="96" rx="10" fill="#F5F5F5"/>
<rect x="920" y="798" width="68" height="68" rx="5" fill="#FFFFFF"/>
<text x="954" y="840.5" font-family='"Liberation Serif", serif' font-size="35.5" fill="#7B93DE" text-anchor="middle" stroke="#7B93DE" stroke-width="0.45">g</text>
<rect x="1010" y="784" width="96" height="96" rx="10" fill="#F5F5F5"/>
<rect x="1024" y="798" width="68" height="68" rx="5" fill="#FFFFFF"/>
<text x="1058" y="840.5" font-family='"Liberation Serif", serif' font-size="35.5" fill="#7B93DE" text-anchor="middle" stroke="#7B93DE" stroke-width="0.45">h</text>
<rect x="1114" y="784" width="96" height="96" rx="10" fill="#F5F5F5"/>
<rect x="1128" y="798" width="68" height="68" rx="5" fill="#FFFFFF"/>
<text x="1162" y="840.5" font-family='"Liberation Serif", serif' font-size="35.5" fill="#7B93DE" text-anchor="middle" stroke="#7B93DE" stroke-width="0.45">j</text>
<rect x="1146" y="854" width="32" height="8" rx="4" fill="#EDEDED"/>
<rect x="1218" y="784" width="96" height="96" rx="10" fill="#F5F5F5"/>
<rect x="1232" y="798" width="68" height="68" rx="5" fill="#FFFFFF"/>
<text x="1266" y="840.5" font-family='"Liberation Serif", serif' font-size="35.5" fill="#7B93DE" text-anchor="middle" stroke="#7B93DE" stroke-width="0.45">k</text>
<rect x="1322" y="784" width="96" height="96" rx="10" fill="#F5F5F5"/>
<rect x="1336" y="798" width="68" height="68" rx="5" fill="#FFFFFF"/>
<text x="1370" y="840.5" font-family='"Liberation Serif", serif' font-size="35.5" fill="#7B93DE" text-anchor="middle" stroke="#7B93DE" stroke-width="0.45">l</text>
<rect x="1426" y="784" width="96" height="96" rx="10" fill="#F5F5F5"/>
<rect x="1440" y="798" width="68" height="68" rx="5" fill="#FFFFFF"/>
<text x="1474" y="826.4" font-family='"Liberation Serif", serif' font-size="21" fill="#7B93DE" text-anchor="middle" stroke="#7B93DE" stroke-width="0.55">:</text>
<text x="1474" y="851.4" font-family='"Liberation Serif", serif' font-size="21" fill="#7B93DE" text-anchor="middle" stroke="#7B93DE" stroke-width="0.55">;</text>
<rect x="1530" y="784" width="96" height="96" rx="10" fill="#F5F5F5"/>
<rect x="1544" y="798" width="68" height="68" rx="5" fill="#FFFFFF"/>
<text x="1578" y="826.4" font-family='"Liberation Serif", serif' font-size="21" fill="#7B93DE" text-anchor="middle" stroke="#7B93DE" stroke-width="0.55">"</text>
<text x="1578" y="851.4" font-family='"Liberation Serif", serif' font-size="21" fill="#7B93DE" text-anchor="middle" stroke="#7B93DE" stroke-width="0.55">'</text>
<rect x="1634" y="784" width="226" height="96" rx="10" fill="#F5F5F5"/>
<rect x="1648" y="798" width="198" height="68" rx="5" fill="#FFFFFF"/>
<text x="1747" y="838.6" font-family='"Liberation Serif", serif' font-size="28" fill="#7B93DE" text-anchor="middle" stroke="#7B93DE" stroke-width="0.45">enter</text>
<text x="1855.4" y="868" font-family='"Liberation Mono", monospace' font-size="19.6" fill="#7B93DE" text-anchor="end" stroke="#7B93DE" stroke-width="0.6">2.25u</text>
<rect x="308" y="888" width="226" height="96" rx="10" fill="#F5F5F5"/>
<rect x="322" y="902" width="198" height="68" rx="5" fill="#FFFFFF"/>
<text x="421" y="942.6" font-family='"Liberation Serif", serif' font-size="28" fill="#7B93DE" text-anchor="middle" stroke="#7B93DE" stroke-width="0.45">shift</text>
<text x="529.4" y="972" font-family='"Liberation Mono", monospace' font-size="19.6" fill="#7B93DE" text-anchor="end" stroke="#7B93DE" stroke-width="0.6">2.25u</text>
<rect x="542" y="888" width="96" height="96" rx="10" fill="#F5F5F5"/>
<rect x="556" y="902" width="68" height="68" rx="5" fill="#FFFFFF"/>
<text x="590" y="944.5" font-family='"Liberation Serif", serif' font-size="35.5" fill="#7B93DE" text-anchor="middle" stroke="#7B93DE" stroke-width="0.45">z</text>
<rect x="646" y="888" width="96" height="96" rx="10" fill="#F5F5F5"/>
<rect x="660" y="902" width="68" height="68" rx="5" fill="#FFFFFF"/>
<text x="694" y="944.5" font-family='"Liberation Serif", serif' font-size="35.5" fill="#7B93DE" text-anchor="middle" stroke="#7B93DE" stroke-width="0.45">x</text>
<rect x="750" y="888" width="96" height="96" rx="10" fill="#F5F5F5"/>
<rect x="764" y="902" width="68" height="68" rx="5" fill="#FFFFFF"/>
<text x="798" y="944.5" font-family='"Liberation Serif", serif' font-size="35.5" fill="#7B93DE" text-anchor="middle" stroke="#7B93DE" stroke-width="0.45">c</text>
<rect x="854" y="888" width="96" height="96" rx="10" fill="#F5F5F5"/>
<rect x="868" y="902" width="68" height="68" rx="5" fill="#FFFFFF"/>
<text x="902" y="944.5" font-family='"Liberation Serif", serif' font-size="35.5" fill="#7B93DE" text-anchor="middle" stroke="#7B93DE" stroke-width="0.45">v</text>
<rect x="958" y="888" width="96" height="96" rx="10" fill="#F5F5F5"/>
<rect x="972" y="902" width="68" height="68" rx="5" fill="#FFFFFF"/>
<text x="1006" y="944.5" font-family='"Liberation Serif", serif' font-size="35.5" fill="#7B93DE" text-anchor="middle" stroke="#7B93DE" stroke-width="0.45">b</text>
<rect x="1062" y="888" width="96" height="96" rx="10" fill="#F5F5F5"/>
<rect x="1076" y="902" width="68" height="68" rx="5" fill="#FFFFFF"/>
<text x="1110" y="944.5" font-family='"Liberation Serif", serif' font-size="35.5" fill="#7B93DE" text-anchor="middle" stroke="#7B93DE" stroke-width="0.45">n</text>
<rect x="1166" y="888" width="96" height="96" rx="10" fill="#F5F5F5"/>
<rect x="1180" y="902" width="68" height="68" rx="5" fill="#FFFFFF"/>
<text x="1214" y="944.5" font-family='"Liberation Serif", serif' font-size="35.5" fill="#7B93DE" text-anchor="middle" stroke="#7B93DE" stroke-width="0.45">m</text>
<rect x="1270" y="888" width="96" height="96" rx="10" fill="#F5F5F5"/>
<rect x="1284" y="902" width="68" height="68" rx="5" fill="#FFFFFF"/>
<text x="1318" y="930.4" font-family='"Liberation Serif", serif' font-size="21" fill="#7B93DE" text-anchor="middle" stroke="#7B93DE" stroke-width="0.55">&lt;</text>
<text x="1318" y="955.4" font-family='"Liberation Serif", serif' font-size="21" fill="#7B93DE" text-anchor="middle" stroke="#7B93DE" stroke-width="0.55">,</text>
<rect x="1374" y="888" width="96" height="96" rx="10" fill="#F5F5F5"/>
<rect x="1388" y="902" width="68" height="68" rx="5" fill="#FFFFFF"/>
<text x="1422" y="930.4" font-family='"Liberation Serif", serif' font-size="21" fill="#7B93DE" text-anchor="middle" stroke="#7B93DE" stroke-width="0.55">&gt;</text>
<text x="1422" y="955.4" font-family='"Liberation Serif", serif' font-size="21" fill="#7B93DE" text-anchor="middle" stroke="#7B93DE" stroke-width="0.55">.</text>
<rect x="1478" y="888" width="96" height="96" rx="10" fill="#F5F5F5"/>
<rect x="1492" y="902" width="68" height="68" rx="5" fill="#FFFFFF"/>
<text x="1526" y="930.4" font-family='"Liberation Serif", serif' font-size="21" fill="#7B93DE" text-anchor="middle" stroke="#7B93DE" stroke-width="0.55">?</text>
<text x="1526" y="955.4" font-family='"Liberation Serif", serif' font-size="21" fill="#7B93DE" text-anchor="middle" stroke="#7B93DE" stroke-width="0.55">/</text>
<rect x="1582" y="888" width="278" height="96" rx="10" fill="#F5F5F5"/>
<rect x="1596" y="902" width="250" height="68" rx="5" fill="#FFFFFF"/>
<text x="1721" y="942.6" font-family='"Liberation Serif", serif' font-size="28" fill="#7B93DE" text-anchor="middle" stroke="#7B93DE" stroke-width="0.45">shift</text>
<text x="1855.4" y="972" font-family='"Liberation Mono", monospace' font-size="19.6" fill="#7B93DE" text-anchor="end" stroke="#7B93DE" stroke-width="0.6">2.75u</text>
<rect x="1998" y="888" width="96" height="96" rx="10" fill="#F5F5F5"/>
<rect x="2012" y="902" width="68" height="68" rx="5" fill="#FFFFFF"/>
<g transform="translate(2046 936) rotate(0)" fill="#7B93DE"><path d="M0 -13.3 C1.6 -4 3.2 2 15.1 5.5 C8 5.7 3 4.2 0 0.6 C-3 4.2 -8 5.7 -15.1 5.5 C-3.2 2 -1.6 -4 0 -13.3Z"/><path d="M0 6.5 C1.4 6.5 2.3 7.6 2 8.9 L0 14.4 L-2 8.9 C-2.3 7.6 -1.4 6.5 0 6.5Z"/></g>
<rect x="308" y="992" width="122" height="96" rx="10" fill="#F5F5F5"/>
<rect x="322" y="1006" width="94" height="68" rx="5" fill="#FFFFFF"/>
<text x="369" y="1046.6" font-family='"Liberation Serif", serif' font-size="28" fill="#7B93DE" text-anchor="middle" stroke="#7B93DE" stroke-width="0.45">ctrl</text>
<text x="425.4" y="1076" font-family='"Liberation Mono", monospace' font-size="19.6" fill="#7B93DE" text-anchor="end" stroke="#7B93DE" stroke-width="0.6">1.25u</text>
<rect x="438" y="992" width="122" height="96" rx="10" fill="#F5F5F5"/>
<rect x="452" y="1006" width="94" height="68" rx="5" fill="#FFFFFF"/>
<text x="499" y="1046.6" font-family='"Liberation Serif", serif' font-size="28" fill="#7B93DE" text-anchor="middle" stroke="#7B93DE" stroke-width="0.45">shine</text>
<text x="555.4" y="1076" font-family='"Liberation Mono", monospace' font-size="19.6" fill="#7B93DE" text-anchor="end" stroke="#7B93DE" stroke-width="0.6">1.25u</text>
<rect x="568" y="992" width="122" height="96" rx="10" fill="#F5F5F5"/>
<rect x="582" y="1006" width="94" height="68" rx="5" fill="#FFFFFF"/>
<text x="629" y="1046.6" font-family='"Liberation Serif", serif' font-size="28" fill="#7B93DE" text-anchor="middle" stroke="#7B93DE" stroke-width="0.45">alt</text>
<text x="685.4" y="1076" font-family='"Liberation Mono", monospace' font-size="19.6" fill="#7B93DE" text-anchor="end" stroke="#7B93DE" stroke-width="0.6">1.25u</text>
<rect x="698" y="992" width="642" height="96" rx="10" fill="#F5F5F5"/>
<rect x="712" y="1006" width="614" height="68" rx="5" fill="#FFFFFF"/>
<text x="1335.4" y="1076" font-family='"Liberation Mono", monospace' font-size="19.6" fill="#7B93DE" text-anchor="end" stroke="#7B93DE" stroke-width="0.6">6.25c</text>
<rect x="1348" y="992" width="122" height="96" rx="10" fill="#F5F5F5"/>
<rect x="1362" y="1006" width="94" height="68" rx="5" fill="#FFFFFF"/>
<text x="1409" y="1046.6" font-family='"Liberation Serif", serif' font-size="28" fill="#7B93DE" text-anchor="middle" stroke="#7B93DE" stroke-width="0.45">alt</text>
<text x="1465.4" y="1076" font-family='"Liberation Mono", monospace' font-size="19.6" fill="#7B93DE" text-anchor="end" stroke="#7B93DE" stroke-width="0.6">1.25u</text>
<rect x="1478" y="992" width="122" height="96" rx="10" fill="#F5F5F5"/>
<rect x="1492" y="1006" width="94" height="68" rx="5" fill="#FFFFFF"/>
<text x="1539" y="1046.6" font-family='"Liberation Serif", serif' font-size="28" fill="#7B93DE" text-anchor="middle" stroke="#7B93DE" stroke-width="0.45">shine</text>
<text x="1595.4" y="1076" font-family='"Liberation Mono", monospace' font-size="19.6" fill="#7B93DE" text-anchor="end" stroke="#7B93DE" stroke-width="0.6">1.25u</text>
<rect x="1608" y="992" width="122" height="96" rx="10" fill="#F5F5F5"/>
<rect x="1622" y="1006" width="94" height="68" rx="5" fill="#FFFFFF"/>
<text x="1669" y="1046.6" font-family='"Liberation Serif", serif' font-size="28" fill="#7B93DE" text-anchor="middle" stroke="#7B93DE" stroke-width="0.45">fn</text>
<text x="1725.4" y="1076" font-family='"Liberation Mono", monospace' font-size="19.6" fill="#7B93DE" text-anchor="end" stroke="#7B93DE" stroke-width="0.6">1.25u</text>
<rect x="1738" y="992" width="122" height="96" rx="10" fill="#F5F5F5"/>
<rect x="1752" y="1006" width="94" height="68" rx="5" fill="#FFFFFF"/>
<text x="1799" y="1046.6" font-family='"Liberation Serif", serif' font-size="28" fill="#7B93DE" text-anchor="middle" stroke="#7B93DE" stroke-width="0.45">ctrl</text>
<text x="1855.4" y="1076" font-family='"Liberation Mono", monospace' font-size="19.6" fill="#7B93DE" text-anchor="end" stroke="#7B93DE" stroke-width="0.6">1.25u</text>
<rect x="1894" y="992" width="96" height="96" rx="10" fill="#F5F5F5"/>
<rect x="1908" y="1006" width="68" height="68" rx="5" fill="#FFFFFF"/>
<g transform="translate(1942 1040) rotate(-90)" fill="#7B93DE"><path d="M0 -13.3 C1.6 -4 3.2 2 15.1 5.5 C8 5.7 3 4.2 0 0.6 C-3 4.2 -8 5.7 -15.1 5.5 C-3.2 2 -1.6 -4 0 -13.3Z"/><path d="M0 6.5 C1.4 6.5 2.3 7.6 2 8.9 L0 14.4 L-2 8.9 C-2.3 7.6 -1.4 6.5 0 6.5Z"/></g>
<rect x="1998" y="992" width="96" height="96" rx="10" fill="#F5F5F5"/>
<rect x="2012" y="1006" width="68" height="68" rx="5" fill="#FFFFFF"/>
<g transform="translate(2046 1040) rotate(180)" fill="#7B93DE"><path d="M0 -13.3 C1.6 -4 3.2 2 15.1 5.5 C8 5.7 3 4.2 0 0.6 C-3 4.2 -8 5.7 -15.1 5.5 C-3.2 2 -1.6 -4 0 -13.3Z"/><path d="M0 6.5 C1.4 6.5 2.3 7.6 2 8.9 L0 14.4 L-2 8.9 C-2.3 7.6 -1.4 6.5 0 6.5Z"/></g>
<rect x="2102" y="992" width="96" height="96" rx="10" fill="#F5F5F5"/>
<rect x="2116" y="1006" width="68" height="68" rx="5" fill="#FFFFFF"/>
<g transform="translate(2150 1040) rotate(90)" fill="#7B93DE"><path d="M0 -13.3 C1.6 -4 3.2 2 15.1 5.5 C8 5.7 3 4.2 0 0.6 C-3 4.2 -8 5.7 -15.1 5.5 C-3.2 2 -1.6 -4 0 -13.3Z"/><path d="M0 6.5 C1.4 6.5 2.3 7.6 2 8.9 L0 14.4 L-2 8.9 C-2.3 7.6 -1.4 6.5 0 6.5Z"/></g>
<rect x="308" y="1200" width="96" height="96" rx="10" fill="#7C9BDE"/>
<rect x="322" y="1214" width="68" height="68" rx="5" fill="#97B3EA"/>
<path d="M356.2 1230.2C357.25 1236.66 358.41 1242.65 360.27 1244.76C361.66 1246.17 364.56 1247.52 371.3 1248.4C364.56 1249.28 361.66 1250.63 360.27 1252.04C358.41 1254.15 357.25 1260.14 356.2 1266.6C355.15 1260.14 353.99 1254.15 352.13 1252.04C350.74 1250.63 347.84 1249.28 341.1 1248.4C347.84 1247.52 350.74 1246.17 352.13 1244.76C353.99 1242.65 355.15 1236.66 356.2 1230.2Z" fill="#FFFFFF"/>
<rect x="412" y="1200" width="96" height="96" rx="10" fill="#F5F5F5"/>
<rect x="426" y="1214" width="68" height="68" rx="5" fill="#FFFFFF"/>
<text x="460" y="1254.6" font-family='"Liberation Serif", serif' font-size="28" fill="#7B93DE" text-anchor="middle" stroke="#7B93DE" stroke-width="0.45">esc</text>
<rect x="1348" y="1200" width="96" height="96" rx="10" fill="#F5F5F5"/>
<rect x="1362" y="1214" width="68" height="68" rx="5" fill="#FFFFFF"/>
<text x="1396" y="1242.4" font-family='"Liberation Serif", serif' font-size="21" fill="#7B93DE" text-anchor="middle" stroke="#7B93DE" stroke-width="0.55">|</text>
<text x="1396" y="1267.4" font-family='"Liberation Serif", serif' font-size="21" fill="#7B93DE" text-anchor="middle" stroke="#7B93DE" stroke-width="0.55">\</text>
<rect x="1452" y="1200" width="96" height="96" rx="10" fill="#F5F5F5"/>
<rect x="1466" y="1214" width="68" height="68" rx="5" fill="#FFFFFF"/>
<text x="1500" y="1254.6" font-family='"Liberation Serif", serif' font-size="28" fill="#7B93DE" text-anchor="middle" stroke="#7B93DE" stroke-width="0.45">del</text>
<rect x="1556" y="1200" width="96" height="96" rx="10" fill="#F1DE98"/>
<rect x="1570" y="1214" width="68" height="68" rx="5" fill="#FFEBA3"/>
<path d="M1597.7 1224C1598.6 1229.5 1599.6 1234.6 1601.2 1236.4C1602.4 1237.6 1604.9 1238.75 1610.7 1239.5C1604.9 1240.25 1602.4 1241.4 1601.2 1242.6C1599.6 1244.4 1598.6 1249.5 1597.7 1255C1596.8 1249.5 1595.8 1244.4 1594.2 1242.6C1593 1241.4 1590.5 1240.25 1584.7 1239.5C1590.5 1238.75 1593 1237.6 1594.2 1236.4C1595.8 1234.6 1596.8 1229.5 1597.7 1224Z" fill="#FFFFFF"/>
<path d="M1613.6 1249.7C1614.22 1253.64 1614.9 1257.29 1616 1258.58C1616.82 1259.44 1618.53 1260.26 1622.5 1260.8C1618.53 1261.34 1616.82 1262.16 1616 1263.02C1614.9 1264.31 1614.22 1267.96 1613.6 1271.9C1612.98 1267.96 1612.3 1264.31 1611.2 1263.02C1610.38 1262.16 1608.67 1261.34 1604.7 1260.8C1608.67 1260.26 1610.38 1259.44 1611.2 1258.58C1612.3 1257.29 1612.98 1253.64 1613.6 1249.7Z" fill="#FFFFFF"/>
<rect x="1660" y="1200" width="200" height="96" rx="10" fill="#F1DE98"/>
<rect x="1674" y="1214" width="172" height="68" rx="5" fill="#FFEBA3"/>
<path d="M1718.9 1236.6C1719.3 1238.98 1719.75 1241.18 1720.46 1241.96C1721 1242.48 1722.11 1242.98 1724.7 1243.3C1722.11 1243.62 1721 1244.12 1720.46 1244.64C1719.75 1245.42 1719.3 1247.62 1718.9 1250C1718.5 1247.62 1718.05 1245.42 1717.34 1244.64C1716.8 1244.12 1715.69 1243.62 1713.1 1243.3C1715.69 1242.98 1716.8 1242.48 1717.34 1241.96C1718.05 1241.18 1718.5 1238.98 1718.9 1236.6Z" fill="#FFFFFF"/>
<path d="M1733.8 1247.2C1734.37 1250.89 1735.01 1254.31 1736.03 1255.52C1736.8 1256.33 1738.4 1257.1 1742.1 1257.6C1738.4 1258.1 1736.8 1258.87 1736.03 1259.68C1735.01 1260.89 1734.37 1264.31 1733.8 1268C1733.23 1264.31 1732.59 1260.89 1731.57 1259.68C1730.8 1258.87 1729.2 1258.1 1725.5 1257.6C1729.2 1257.1 1730.8 1256.33 1731.57 1255.52C1732.59 1254.31 1733.23 1250.89 1733.8 1247.2Z" fill="#FFFFFF"/>
<path d="M1760.1 1230.2C1761.14 1236.59 1762.29 1242.51 1764.14 1244.6C1765.52 1245.99 1768.41 1247.33 1775.1 1248.2C1768.41 1249.07 1765.52 1250.41 1764.14 1251.8C1762.29 1253.89 1761.14 1259.81 1760.1 1266.2C1759.06 1259.81 1757.91 1253.89 1756.06 1251.8C1754.68 1250.41 1751.79 1249.07 1745.1 1248.2C1751.79 1247.33 1754.68 1245.99 1756.06 1244.6C1757.91 1242.51 1759.06 1236.59 1760.1 1230.2Z" fill="#FFFFFF"/>
<path d="M1786.3 1228C1786.87 1231.73 1787.5 1235.18 1788.51 1236.4C1789.26 1237.21 1790.84 1237.99 1794.5 1238.5C1790.84 1239.01 1789.26 1239.79 1788.51 1240.6C1787.5 1241.82 1786.87 1245.27 1786.3 1249C1785.73 1245.27 1785.1 1241.82 1784.09 1240.6C1783.34 1239.79 1781.76 1239.01 1778.1 1238.5C1781.76 1237.99 1783.34 1237.21 1784.09 1236.4C1785.1 1235.18 1785.73 1231.73 1786.3 1228Z" fill="#FFFFFF"/>
<path d="M1801.3 1245.7C1801.65 1248.18 1802.03 1250.49 1802.65 1251.3C1803.11 1251.84 1804.07 1252.36 1806.3 1252.7C1804.07 1253.04 1803.11 1253.56 1802.65 1254.1C1802.03 1254.91 1801.65 1257.22 1801.3 1259.7C1800.95 1257.22 1800.57 1254.91 1799.95 1254.1C1799.49 1253.56 1798.53 1253.04 1796.3 1252.7C1798.53 1252.36 1799.49 1251.84 1799.95 1251.3C1800.57 1250.49 1800.95 1248.18 1801.3 1245.7Z" fill="#FFFFFF"/>
<text x="1855.4" y="1284" font-family='"Liberation Mono", monospace' font-size="19.6" fill="#FFFFFF" text-anchor="end" stroke="#FFFFFF" stroke-width="0.25">2.00u</text>
<rect x="1894" y="1200" width="96" height="96" rx="10" fill="#F5F5F5"/>
<rect x="1908" y="1214" width="68" height="68" rx="5" fill="#FFFFFF"/>
<text x="1942" y="1254.6" font-family='"Liberation Serif", serif' font-size="28" fill="#7B93DE" text-anchor="middle" stroke="#7B93DE" stroke-width="0.45">end</text>
<rect x="1998" y="1200" width="96" height="96" rx="10" fill="#F5F5F5"/>
<rect x="2012" y="1214" width="68" height="68" rx="5" fill="#FFFFFF"/>
<text x="2046" y="1254.6" font-family='"Liberation Serif", serif' font-size="28" fill="#7B93DE" text-anchor="middle" stroke="#7B93DE" stroke-width="0.45">down</text>
<rect x="2232" y="1200" width="96" height="96" rx="10" fill="#F5F5F5"/>
<rect x="2246" y="1214" width="68" height="68" rx="5" fill="#FFFFFF"/>
<g transform="translate(2280 1248)" fill="none" stroke-width="2" stroke-linecap="round" stroke-linejoin="round"><path d="M -2.38 -2.62 C -5.28 -10.76 -15.1 -19.46 -20.71 -19.46 C -24.64 -19.46 -26.14 -16.28 -24.08 -13.47 C -22.02 -10.66 -22.21 -7.48 -21.65 -2.62 C -21.09 2.25 -16.78 4.86 -11.17 5.24" stroke="#8FADEA" stroke-width="2"/><path d="M 2.38 -2.62 C 5.28 -10.76 15.1 -19.46 20.71 -19.46 C 24.64 -19.46 26.14 -16.28 24.08 -13.47 C 22.02 -10.66 22.21 -7.48 21.65 -2.62 C 21.09 2.25 16.78 4.86 11.17 5.24" stroke="#8FADEA" stroke-width="2"/><path d="M -11.17 5.24 C -16.03 7.67 -18.84 12.35 -18.37 16.84 C -18 20.21 -14.91 19.64 -11.17 17.77 C -6.49 15.72 -2.75 11.97 -1.44 7.48" stroke="#8FADEA" stroke-width="2"/><path d="M 11.17 5.24 C 16.03 7.67 18.84 12.35 18.37 16.84 C 18 20.21 14.91 19.64 11.17 17.77 C 6.49 15.72 2.75 11.97 1.44 7.48" stroke="#8FADEA" stroke-width="2"/><path d="M -17.9 -12.44 C -11.36 -11.23 -5.74 -6.55 -3.31 -1.68" stroke="#B197DE" stroke-width="1.8"/><path d="M 17.9 -12.44 C 11.36 -11.23 5.74 -6.55 3.31 -1.68" stroke="#B197DE" stroke-width="1.8"/><path d="M -14.44 -6.83 C -9.49 -5.61 -5.28 -2.81 -3.31 0.56" stroke="#F4B0D9" stroke-width="1.8"/><path d="M 14.44 -6.83 C 9.49 -5.61 5.28 -2.81 3.31 0.56" stroke="#F4B0D9" stroke-width="1.8"/><path d="M -16.78 -1.87 C -11.36 -2.34 -6.21 -0.47 -3.12 2.43" stroke="#F297BE" stroke-width="1.8"/><path d="M 16.78 -1.87 C 11.36 -2.34 6.21 -0.47 3.12 2.43" stroke="#F297BE" stroke-width="1.8"/><path d="M -3.69 3.93 C -8.36 6.74 -11.73 10.29 -13.7 14.03" stroke="#FFC594" stroke-width="1.8"/><path d="M 3.69 3.93 C 8.36 6.74 11.73 10.29 13.7 14.03" stroke="#FFC594" stroke-width="1.8"/><path d="M -5.18 7.48 L -7.43 10.29" stroke="#FFE796" stroke-width="3"/><path d="M 5.18 7.48 L 7.43 10.29" stroke="#FFE796" stroke-width="3"/><path d="M -1.07 -5.05 C -1.25 -9.35 -2 -12.91 -3.41 -14.78" stroke="#8FADEA" stroke-width="2"/><path d="M 1.07 -5.05 C 1.25 -9.35 2 -12.91 3.41 -14.78" stroke="#8FADEA" stroke-width="2"/><path d="M -0.04 -3.55 L -0.04 11.97" stroke="#8FADEA" stroke-width="4.6"/><path d="M -0.04 -1.12 L -0.04 11.23" stroke="#CFDDF7" stroke-width="1.2"/></g>
<rect x="2336" y="1200" width="96" height="96" rx="10" fill="#F5F5F5"/>
<rect x="2350" y="1214" width="68" height="68" rx="5" fill="#FFFFFF"/>
<g transform="translate(2384 1248)" fill="none" stroke-width="2" stroke-linecap="round" stroke-linejoin="round"><g transform="rotate(22)" stroke-linejoin="miter"><rect x="17.61" y="-12.01" width="7.2" height="25.46" stroke="#8FADEA" stroke-width="2" fill="#FFFFFF"/><rect x="-3.99" y="13.01" width="18.17" height="8.24" stroke="#8FADEA" stroke-width="2" fill="#FFFFFF"/><rect x="-17" y="8.46" width="12.36" height="15.09" stroke="#8FADEA" stroke-width="2" fill="#FFFFFF"/><rect x="-22.9" y="-7.81" width="12.62" height="15.39" stroke="#8FADEA" stroke-width="2" fill="#FFFFFF"/><rect x="-16.13" y="-20.21" width="16.44" height="11.23" stroke="#8FADEA" stroke-width="2" fill="#FFFFFF"/><rect x="-9.63" y="-9.84" width="27.41" height="26.97" stroke="#8FADEA" stroke-width="2" fill="#FFFFFF"/><rect x="6.5" y="-16.13" width="14.74" height="15" stroke="#8FADEA" stroke-width="2" fill="#FFFFFF"/><path d="M8.02 -6.29 L-5.85 -6.29 L-5.85 10.71" stroke="#B197DE" stroke-width="1.8"/><path d="M20.16 0.56 L20.16 12.23" stroke="#B197DE" stroke-width="1.8"/><path d="M6.5 -3.12 L-1.95 -3.12 L-1.95 13.23 L15.83 13.23 L15.83 -0.43" stroke="#F4B0D9" stroke-width="1.8"/><path d="M11.93 0.26 L11.93 10.23" stroke="#F297BE" stroke-width="1.8"/><path d="M-3.56 17.13 L12.79 17.13" stroke="#F297BE" stroke-width="2"/><path d="M7.81 1 L1.3 1 L1.3 10.32 L11.41 10.32" stroke="#FFC594" stroke-width="2"/><path d="M4.77 3.47 L8.24 3.47 L8.24 7.81 L4.77 7.81 L4.77 5.2 L6.5 5.2" stroke="#FFE796" stroke-width="3"/><path d="M-8.67 -16.22 L-12.36 -16.22 L-12.36 -9.32" stroke="#B197DE" stroke-width="1.8"/><path d="M-7.81 -14.96 L-3.9 -14.96 L-3.9 -11.71 L-8.24 -11.71" stroke="#F4B0D9" stroke-width="2"/><path d="M-19.08 -4.34 L-12.58 -4.34" stroke="#F297BE" stroke-width="1.8"/><path d="M-20.38 -3.47 L-20.38 4.34 L-11.71 4.34" stroke="#FFC594" stroke-width="2.2"/><path d="M-17.35 -1.3 L-13.01 -1.3" stroke="#FFE796" stroke-width="3"/><path d="M9.54 -13.01 L17.78 -13.01 L17.78 -5.64" stroke="#FFC594" stroke-width="2.2"/><path d="M10.41 -9.54 L14.31 -9.54 L14.31 -4.34 L10.41 -4.34 L10.41 -6.5" stroke="#FFE796" stroke-width="3"/><path d="M-13.88 10.41 L-13.88 19.08" stroke="#FFC594" stroke-width="2.2"/><path d="M-9.54 14.31 L-9.54 20.38" stroke="#FFE796" stroke-width="3"/></g></g>
<rect x="1556" y="1304" width="148" height="96" rx="10" fill="#F5F5F5"/>
<rect x="1570" y="1318" width="120" height="68" rx="5" fill="#FFFFFF"/>
<text x="1630" y="1358.6" font-family='"Liberation Serif", serif' font-size="28" fill="#7B93DE" text-anchor="middle" stroke="#7B93DE" stroke-width="0.45">back</text>
<text x="1699.4" y="1388" font-family='"Liberation Mono", monospace' font-size="19.6" fill="#7B93DE" text-anchor="end" stroke="#7B93DE" stroke-width="0.6">1.50u</text>
<path d="M1722 1304 H1850 A10 10 0 0 1 1860 1314 V1494 A10 10 0 0 1 1850 1504 H1748 A10 10 0 0 1 1738 1494 V1400 H1722 A10 10 0 0 1 1712 1390 V1314 A10 10 0 0 1 1722 1304 Z" fill="#F5F5F5"/>
<path d="M1731 1318 H1841 A5 5 0 0 1 1846 1323 V1485 A5 5 0 0 1 1841 1490 H1757 A5 5 0 0 1 1752 1485 V1394 H1731 A5 5 0 0 1 1726 1389 V1323 A5 5 0 0 1 1731 1318 Z" fill="#FFFFFF"/>
<text x="1799" y="1410.6" font-family='"Liberation Serif", serif' font-size="28" fill="#7B93DE" text-anchor="middle" stroke="#7B93DE" stroke-width="0.45">enter</text>
<rect x="1894" y="1304" width="96" height="96" rx="10" fill="#F5F5F5"/>
<rect x="1908" y="1318" width="68" height="68" rx="5" fill="#FFFFFF"/>
<text x="1942" y="1358.6" font-family='"Liberation Serif", serif' font-size="28" fill="#7B93DE" text-anchor="middle" stroke="#7B93DE" stroke-width="0.45">up</text>
<rect x="2232" y="1304" width="96" height="96" rx="10" fill="#F5F5F5"/>
<rect x="2246" y="1318" width="68" height="68" rx="5" fill="#FFFFFF"/>
<g transform="translate(2280 1352)" fill="none" stroke-width="2" stroke-linecap="round" stroke-linejoin="round"><path d="M -22.58 -4.86 L -14.35 -15.15 Q -0.13 -23.2 14.37 -15.15 L 22.79 -4.86 L -0.13 19.18 Z" stroke="#8FADEA" stroke-width="2"/><path d="M -14.35 -15.15 Q -0.13 -9.35 14.37 -15.15" stroke="#8FADEA" stroke-width="2"/><path d="M -22.58 -4.86 Q -0.13 -0.75 22.79 -4.86" stroke="#8FADEA" stroke-width="2"/><path d="M -14.35 -15.15 L -8.55 -2.81 M 14.37 -15.15 L 7.54 -2.81 L -0.13 19.18" stroke="#8FADEA" stroke-width="2"/><path d="M -8.36 -2.62 L -0.32 18.24" stroke="#B197DE" stroke-width="1.6"/><path d="M -13.6 -13.66 Q -6.68 -11.97 -0.13 -12.16" stroke="#F297BE" stroke-width="1.6"/><path d="M -0.13 -11.97 L -8.36 -2.99" stroke="#F4B0D9" stroke-width="1.6"/><path d="M -0.13 -12.16 L 7.35 -3.37" stroke="#FFC594" stroke-width="2.2"/><path d="M 7.54 -2.81 Q 13.9 -3.18 19.7 -4.86" stroke="#FFE796" stroke-width="2.6"/></g>
<path d="M2554 1304 H2682 A10 10 0 0 1 2692 1314 V1494 A10 10 0 0 1 2682 1504 H2580 A10 10 0 0 1 2570 1494 V1400 H2554 A10 10 0 0 1 2544 1390 V1314 A10 10 0 0 1 2554 1304 Z" fill="#F5F5F5"/>
<path d="M2563 1318 H2673 A5 5 0 0 1 2678 1323 V1485 A5 5 0 0 1 2673 1490 H2589 A5 5 0 0 1 2584 1485 V1394 H2563 A5 5 0 0 1 2558 1389 V1323 A5 5 0 0 1 2563 1318 Z" fill="#FFFFFF"/>
<g transform="translate(2618 1404)" fill="none" stroke-width="2" stroke-linecap="round" stroke-linejoin="round"><path d="M-44.07 -71.01 L-44.62 -74.13" stroke="#B197DE" stroke-width="1.6"/><path d="M-41.66 -69.47 L-38.6 -70.29" stroke="#F4B0D9" stroke-width="1.6"/><path d="M-43.15 -66.89 L-42.33 -63.83" stroke="#F297BE" stroke-width="1.6"/><path d="M-45.74 -68.38 L-48.8 -67.56" stroke="#FFC594" stroke-width="1.6"/><path d="M48.94 -60 L48.39 -63.12" stroke="#FFC594" stroke-width="1.6"/><path d="M51.34 -58.47 L54.4 -59.29" stroke="#B197DE" stroke-width="1.6"/><path d="M49.85 -55.88 L50.67 -52.82" stroke="#F4B0D9" stroke-width="1.6"/><path d="M47.26 -57.38 L44.2 -56.56" stroke="#F297BE" stroke-width="1.6"/><path d="M-13.55 3.51 L-14.1 0.39" stroke="#FFC594" stroke-width="1.6"/><path d="M-11.15 5.05 L-8.09 4.23" stroke="#FFC594" stroke-width="1.6"/><path d="M-12.64 7.63 L-11.82 10.69" stroke="#B197DE" stroke-width="1.6"/><path d="M-15.23 6.14 L-18.29 6.96" stroke="#F4B0D9" stroke-width="1.6"/><path d="M-44.42 -22.35 A15.4 15.4 0 0 1 -23.38 -43.39" stroke="#F4B0D9" stroke-width="1.8"/><path d="M-17.74 -22.35 A15.4 15.4 0 0 1 -44.42 -22.35" stroke="#FFC594" stroke-width="1.8"/><path d="M-23.38 -43.39 A15.4 15.4 0 0 1 -17.74 -22.35" stroke="#FFE796" stroke-width="1.8"/><path d="M-24.78 -21.64 A10.56 10.56 0 0 1 -40.46 -32.62" stroke="#FFE796" stroke-width="2.4"/><circle cx="-14.65" cy="-47.66" r="22" stroke="#8FADEA" stroke-width="2.2"/><path d="M -31.52 -45.46 C -32.55 -54.26 -27.86 -61.59 -19.05 -63.79" stroke="#F297BE" stroke-width="1.8"/><path d="M -19.05 -63.79 C -14.65 -65.11 -10.25 -65.26 -7.32 -64.23" stroke="#FFC594" stroke-width="1.8"/><path d="M -7.32 -64.23 C -2.19 -62.33 0.02 -58.66 -2.19 -55.72 C -4.39 -53.96 -6.59 -55.72 -7.61 -57.48 C -11.72 -60.86 -19.05 -58.66 -23.46 -53.52" stroke="#FFE796" stroke-width="2.4"/><path d="M -23.46 -53.52 C -26.39 -49.86 -26.68 -45.46 -26.39 -42.52 C -28.15 -40.32 -31.08 -41.35 -31.52 -45.46" stroke="#F4B0D9" stroke-width="1.8"/><path d="M -19.79 -30.79 C -13.19 -29.61 -7.32 -30.79 -2.92 -33.72" stroke="#B197DE" stroke-width="1.8"/><path d="M -2.92 -33.72 C 1.48 -37.39 3.24 -41.79 2.22 -46.63" stroke="#F297BE" stroke-width="1.8"/><circle cx="22.31" cy="-70.39" r="8.07" stroke="#B197DE" stroke-width="2.2"/><path d="M 20.26 -73.62 C 23.19 -73.33 25.25 -71.57 25.83 -68.63" stroke="#F4B0D9" stroke-width="1.6"/><circle cx="0.02" cy="-15.38" r="4.11" stroke="#FFC594" stroke-width="2.2"/><path d="M 27.89 -10.25 C 26.42 -16.12 19.09 -19.05 16.44 -24.92 C 13.22 -33.72 17.62 -43.99 27.89 -46.63 C 38.16 -48.39 47.69 -41.05 49.16 -29.32 C 50.62 -17.58 44.02 -8.78 36.69 -2.91" stroke="#F4B0D9" stroke-width="1.8"/><path d="M 36.69 -2.91 C 32.29 0.75 27.89 4.42 25.69 9.55" stroke="#F297BE" stroke-width="1.6"/><path d="M 27.89 -10.25 C 28.62 -4.38 23.49 -1.45 17.62 0.75 C 5.88 5.15 -5.12 13.22 -6.59 29.36" stroke="#B197DE" stroke-width="1.8"/><path d="M -1.45 25.69 C 0.02 19.09 2.95 14.69 7.35 11.75" stroke="#F297BE" stroke-width="1.8"/><path d="M 7.35 11.75 C 11.75 8.53 16.88 6.62 21.29 4.13" stroke="#FFC594" stroke-width="2"/><path d="M 23.78 -36.65 C 29.35 -41.05 36.69 -39.59 41.09 -33.72 C 44.76 -27.85 44.76 -21.98 42.56 -18.32 C 39.62 -16.12 37.42 -18.32 38.16 -21.98 C 39.62 -27.85 36.69 -33.72 29.35 -34.89 C 26.42 -34.89 24.22 -34.45 23.78 -36.65 Z" stroke="#FFE796" stroke-width="2.2"/><path d="M 29.35 12.49 C 34.49 12.93 35.95 19.09 35.95 26.42 C 35.95 31.56 37.42 34.49 41.09 36.4 C 48.42 39.92 53.56 44.03 52.53 49.89 C 51.36 55.47 42.56 55.76 36.69 56.5 C 33.02 56.94 31.11 58.7 29.35 61.92 C 25.69 68.96 19.09 75.13 13.22 73.37 C 7.35 71.16 5.88 61.63 6.62 55.03 C 6.76 52.09 5.59 50.63 2.22 49.16 C -5.12 45.79 -11.72 41.83 -10.25 35.23 C -8.05 28.62 2.95 27.89 10.28 28.62 C 13.51 28.92 14.98 27.89 16.44 24.96 C 19.82 19.09 23.49 12.05 29.35 12.49 Z" stroke="#8FADEA" stroke-width="2.2"/><path d="M 28.62 19.09 C 30.53 19.82 30.09 25.69 30.09 31.56 C 30.09 35.52 31.55 37.43 35.22 39.33 C 40.36 41.83 46.22 45.49 45.78 48.13 C 44.76 50.63 38.89 50.63 33.46 51.07 C 29.06 51.36 26.71 52.53 24.95 56.5 C 22.31 61.92 18.35 67.5 14.98 67.2 C 12.04 66.03 11.75 60.16 12.48 54.3 C 12.92 49.89 12.48 48.13 8.82 46.23 C 2.95 43.73 -3.21 39.63 -2.92 37.43 C -1.45 34.49 5.88 34.49 11.75 34.93 C 15.42 35.23 17.32 34.49 19.09 30.82 C 21.73 25.69 25.69 18.8 28.62 19.09 Z" stroke="#B197DE" stroke-width="1.5"/><path d="M 28.62 60.16 L 38.89 81.43 M 34.49 58.7 L 44.76 79.23" stroke="#8FADEA" stroke-width="2"/></g>
<rect x="308" y="1408" width="174" height="96" rx="10" fill="#F5F5F5"/>
<rect x="322" y="1422" width="104" height="68" rx="5" fill="#FFFFFF"/>
<text x="374" y="1462.6" font-family='"Liberation Serif", serif' font-size="28" fill="#7B93DE" text-anchor="middle" stroke="#7B93DE" stroke-width="0.45">caps</text>
<text x="477.4" y="1492" font-family='"Liberation Mono", monospace' font-size="19.6" fill="#7B93DE" text-anchor="end" stroke="#7B93DE" stroke-width="0.6">1.75u</text>
<rect x="490" y="1408" width="174" height="96" rx="10" fill="#F5F5F5"/>
<rect x="504" y="1422" width="146" height="68" rx="5" fill="#FFFFFF"/>
<text x="577" y="1462.6" font-family='"Liberation Serif", serif' font-size="28" fill="#7B93DE" text-anchor="middle" stroke="#7B93DE" stroke-width="0.45">ctrl</text>
<text x="659.4" y="1492" font-family='"Liberation Mono", monospace' font-size="19.6" fill="#7B93DE" text-anchor="end" stroke="#7B93DE" stroke-width="0.6">1.75u</text>
<rect x="802" y="1408" width="96" height="96" rx="10" fill="#F5F5F5"/>
<rect x="816" y="1422" width="68" height="68" rx="5" fill="#FFFFFF"/>
<circle cx="850" cy="1456" r="28" fill="#F1F1F1"/>
<text x="850" y="1464.5" font-family='"Liberation Serif", serif' font-size="35.5" fill="#7B93DE" text-anchor="middle" stroke="#7B93DE" stroke-width="0.45">f</text>
<rect x="1114" y="1408" width="96" height="96" rx="10" fill="#F5F5F5"/>
<rect x="1128" y="1422" width="68" height="68" rx="5" fill="#FFFFFF"/>
<circle cx="1162" cy="1456" r="28" fill="#F1F1F1"/>
<text x="1162" y="1464.5" font-family='"Liberation Serif", serif' font-size="35.5" fill="#7B93DE" text-anchor="middle" stroke="#7B93DE" stroke-width="0.45">j</text>
<rect x="1634" y="1408" width="96" height="96" rx="10" fill="#F5F5F5"/>
<rect x="1648" y="1422" width="68" height="68" rx="5" fill="#FFFFFF"/>
<text x="1682" y="1450.4" font-family='"Liberation Serif", serif' font-size="21" fill="#7B93DE" text-anchor="middle" stroke="#7B93DE" stroke-width="0.55">|</text>
<text x="1682" y="1475.4" font-family='"Liberation Serif", serif' font-size="21" fill="#7B93DE" text-anchor="middle" stroke="#7B93DE" stroke-width="0.55">\</text>
<rect x="1894" y="1408" width="96" height="96" rx="10" fill="#F5F5F5"/>
<rect x="1908" y="1422" width="68" height="68" rx="5" fill="#FFFFFF"/>
<text x="1942" y="1462.6" font-family='"Liberation Serif", serif' font-size="28" fill="#7B93DE" text-anchor="middle" stroke="#7B93DE" stroke-width="0.45">down</text>
<rect x="1998" y="1408" width="96" height="96" rx="10" fill="#F5F5F5"/>
<rect x="2012" y="1422" width="68" height="68" rx="5" fill="#FFFFFF"/>
<text x="2046" y="1462.6" font-family='"Liberation Serif", serif' font-size="28" fill="#7B93DE" text-anchor="middle" stroke="#7B93DE" stroke-width="0.45">up</text>
<rect x="2232" y="1408" width="96" height="96" rx="10" fill="#F5F5F5"/>
<rect x="2246" y="1422" width="68" height="68" rx="5" fill="#FFFFFF"/>
<g transform="translate(2280 1456)" fill="none" stroke-width="2" stroke-linecap="round" stroke-linejoin="round"><path d="M -16.03 24.51 C -17.72 23.39 -17.72 20.58 -16.78 18.24 C -18.84 16.84 -20.24 14.97 -19.59 13.1 C -21.18 11.69 -20.9 9.82 -19.96 8.61 C -21.65 7.02 -20.9 4.68 -19.78 3.74 C -20.24 1.87 -19.59 -0.47 -17.9 -1.12 C -16.03 -9.35 -7.61 -19.64 5.48 -23.39 C 8.29 -24.51 11.09 -24.79 12.5 -23.57 C 15.77 -24.13 19.05 -22.64 19.7 -19.64 C 20.64 -15.9 18.58 -11.23 15.77 -7.95 C 12.03 -3.27 5.48 0.47 -0.13 3.74 C -3.87 5.8 -7.61 7.95 -9.02 9.17 C -7.61 9.54 -7.15 10.76 -8.55 11.69 C -9.95 13.1 -12.29 14.03 -13.23 15.43 C -13.7 16.84 -13.98 19.64 -14.35 22.45 C -14.54 23.85 -15.1 24.79 -16.03 24.51 Z" stroke="#8FADEA" stroke-width="2"/><path d="M -0.88 18.9 C -2 16.84 -1.53 14.03 0.34 11.69 C 2.68 8.61 7.35 6.08 12.97 5.14 C 16.24 4.49 19.51 5.14 19.7 7.02 C 19.7 9.35 15.77 11.69 12.03 12.63 C 8.29 13.56 5.48 14.03 3.61 14.97 C 1.74 15.9 0.34 17.31 -0.88 18.9 Z" stroke="#8FADEA" stroke-width="2"/><path d="M -15.85 14.97 C -15.29 11.23 -15.1 7.48 -15.1 2.81 M -14.16 9.35 C -11.36 5.61 -7.61 2.81 -3.87 1.5" stroke="#B197DE" stroke-width="2"/><path d="M -12.29 2.81 C -11.36 -0.94 -11.17 -3.74 -10.42 -6.36 M -12.29 3.27 C -7.61 -1.87 -2.94 -3.27 2.68 -3.74" stroke="#F4B0D9" stroke-width="2"/><path d="M -7.15 -2.81 C -6.21 -7.48 -4.81 -11.23 -2.75 -15.15 M -4.81 -5.61 C -0.13 -7.95 5.48 -8.42 9.97 -7.67" stroke="#F297BE" stroke-width="2"/><path d="M -3.87 -7.48 C -1.07 -13.1 3.61 -17.77 9.04 -20.58 M -0.13 -11.23 C 3.61 -12.35 8.29 -12.35 12.78 -12.16" stroke="#FFC594" stroke-width="2.4"/><path d="M 4.55 -14.97 C 8.29 -17.77 12.03 -19.18 14.84 -18.9 C 15.77 -17.77 16.24 -16.37 16.24 -15.15" stroke="#FFE796" stroke-width="3"/><path d="M 1.27 13.84 C 2.68 12.16 4.08 11.41 5.48 11.23" stroke="#F297BE" stroke-width="1.6"/><path d="M 5.48 11.04 C 8.29 9.54 11.09 8.89 13.43 8.61" stroke="#FFC594" stroke-width="2.2"/></g>
<rect x="2336" y="1408" width="226" height="96" rx="10" fill="#F5F5F5"/>
<rect x="2350" y="1422" width="198" height="68" rx="5" fill="#FFFFFF"/>
<g transform="translate(2449 1456)" fill="none" stroke-width="2" stroke-linecap="round" stroke-linejoin="round"><circle cx="-85.53" cy="-1.57" r="2.45" stroke="#FFE796" stroke-width="2"/><circle cx="-73.29" cy="13.63" r="5.1" stroke="#F297BE" stroke-width="2"/><path d="M-60.32 -16.32 L-60.76 -18.85" stroke="#FFC594" stroke-width="1.6"/><path d="M-58.36 -15.08 L-55.88 -15.74" stroke="#B197DE" stroke-width="1.6"/><path d="M-59.58 -12.98 L-58.91 -10.49" stroke="#F297BE" stroke-width="1.6"/><path d="M-61.68 -14.19 L-64.16 -13.52" stroke="#F4B0D9" stroke-width="1.6"/><path d="M-50.89 10.66 A7.35 7.35 0 1 1 -43.25 -0.24" stroke="#FFC594" stroke-width="2"/><path d="M-43.25 -0.24 A7.35 7.35 0 0 1 -50.89 10.66" stroke="#FFE796" stroke-width="2"/><path d="M-50.77 12.08 A11.02 11.02 0 0 1 -30.37 4.65" stroke="#F4B0D9" stroke-width="1.8"/><path d="M-30.37 4.65 A11.02 11.02 0 1 1 -50.77 12.08" stroke="#B197DE" stroke-width="1.8"/><path d="M-33.01 12.68 A7.35 7.35 0 0 1 -42.43 17.07" stroke="#F297BE" stroke-width="2"/><path d="M -31.24 -10.86 C -31.45 -19.22 -25.12 -25.55 -17.98 -25.55 C -12.88 -25.55 -9.31 -22.08 -5.53 -21.27 C -1.65 -21.06 0.9 -23.82 4.67 -23.51 C 10.08 -23.1 13.86 -18.2 13.86 -12.08 C 13.86 -2.9 3.45 7.31 -6.76 8.84 C -19 9.35 -31.04 0.16 -31.24 -10.86 Z" stroke="#8FADEA" stroke-width="2.2"/><path d="M -26.65 -13.1 C -25.63 -17.69 -21.04 -20.24 -15.94 -20.24" stroke="#FFC594" stroke-width="2"/><path d="M -15.94 -20.24 C -12.37 -20.04 -9.82 -18.2 -9.61 -15.65 C -10.84 -13.61 -12.88 -14.12 -13.9 -15.35 C -16.96 -16.67 -20.53 -15.14 -22.06 -11.06" stroke="#FFE796" stroke-width="2.4"/><path d="M -26.65 -13.1 C -27.16 -9.02 -25.63 -4.94 -23.59 -2.9 C -21.55 -2.39 -20.53 -4.43 -21.04 -6.47 C -21.55 -8 -22.06 -9.53 -22.06 -11.06" stroke="#F297BE" stroke-width="2"/><path d="M 8.55 -14.12 C 9.37 -8 6.51 -2.39 1.92 0.67" stroke="#B197DE" stroke-width="2"/><path d="M -14.41 2.71 C -8.8 4.45 -2.67 3.73 1.92 0.67" stroke="#F4B0D9" stroke-width="2"/><path d="M-16.75 20.41 L-17.19 17.88" stroke="#FFC594" stroke-width="1.6"/><path d="M-14.79 21.66 L-12.31 20.99" stroke="#B197DE" stroke-width="1.6"/><path d="M-16.01 23.76 L-15.34 26.24" stroke="#F297BE" stroke-width="1.6"/><path d="M-18.1 22.55 L-20.59 23.21" stroke="#F4B0D9" stroke-width="1.6"/><path d="M6.33 23.07 A13.78 13.78 0 0 1 -3.75 1.45" stroke="#F297BE" stroke-width="1.8"/><path d="M-3.75 1.45 A13.78 13.78 0 0 1 7.53 -4.43" stroke="#FFC594" stroke-width="1.8"/><path d="M7.53 -4.43 A13.78 13.78 0 0 1 14.42 -2.58" stroke="#FFE796" stroke-width="1.8"/><path d="M18.08 18.2 A13.78 13.78 0 0 1 6.33 23.07" stroke="#F4B0D9" stroke-width="1.8"/><path d="M20 11.84 A13.27 13.27 0 0 1 -1 17.47" stroke="#FFE796" stroke-width="2.4"/><path d="M 11.61 -2.9 C 17.73 -2.39 20.8 4.24 26.92 4.76" stroke="#F297BE" stroke-width="1.8"/><path d="M 26.92 4.76 C 32.02 4.45 35.08 0.16 39.16 -0.04 C 42.22 -0.04 44.27 1.18 46.82 0.16" stroke="#F4B0D9" stroke-width="1.8"/><path d="M 17.73 17.51 C 21.82 13.43 23.86 10.37 26.92 10.57 C 31 11.39 34.06 13.43 39.16 12.61" stroke="#F4B0D9" stroke-width="1.8"/><path d="M 39.16 12.61 C 46.31 11.39 54.47 13.43 59.06 18.53" stroke="#B197DE" stroke-width="1.8"/><path d="M 34.57 6.08 C 37.12 3.22 40.18 3.22 42.73 4.76 C 44.78 6.08 46.82 5.78 48.35 4.76" stroke="#FFC594" stroke-width="2.2"/><circle cx="33.04" cy="-9.22" r="3.57" stroke="#B197DE" stroke-width="2.2"/><path d="M51.58 -23.7 L51.07 -26.6" stroke="#F4B0D9" stroke-width="1.6"/><path d="M53.81 -22.28 L56.65 -23.04" stroke="#F297BE" stroke-width="1.6"/><path d="M52.43 -19.88 L53.19 -17.04" stroke="#FFC594" stroke-width="1.6"/><path d="M50.03 -21.27 L47.19 -20.51" stroke="#B197DE" stroke-width="1.6"/><path d="M 74.88 -20.45 C 78.45 -20.04 79.47 -15.14 79.16 -10.04 C 78.96 -6.98 79.98 -4.94 82.53 -3.41 C 88.14 -0.86 92.02 2.2 91.2 6.29 C 90.18 10.16 84.06 10.16 79.98 10.57 C 77.43 10.88 76.41 12.41 75.39 14.65 C 72.84 19.55 67.73 23.63 63.65 22.1 C 59.57 20.37 59.78 13.43 60.39 9.35 C 60.59 7.31 59.57 6.08 57.53 5.06 C 52.43 3.02 46.31 0.16 47.12 -4.43 C 48.35 -9.02 56.51 -9.02 61.61 -8.2 C 63.65 -8 64.67 -9.02 65.69 -11.06 C 67.73 -15.14 70.8 -20.76 74.88 -20.45 Z" stroke="#8FADEA" stroke-width="2.2"/><path d="M 73.65 -15.14 C 74.88 -14.63 75.39 -10.04 75.39 -5.96 C 75.39 -3.41 76.41 -2.08 78.96 -0.86 C 82.53 0.98 86.1 2.71 85.59 4.45 C 85.08 6.08 81 6.08 77.43 6.29 C 74.37 6.49 72.84 7.31 71.61 10.16 C 69.78 13.94 66.71 17.51 64.67 17 C 63.14 16.29 63.65 12.41 64.16 8.84 C 64.47 6.29 63.65 5.06 61.1 3.73 C 57.02 2 52.43 -0.86 52.94 -2.39 C 53.96 -4.43 58.55 -4.43 62.63 -3.92 C 65.18 -3.71 66.71 -4.43 67.94 -6.98 C 69.57 -10.55 71.82 -15.35 73.65 -15.14 Z" stroke="#B197DE" stroke-width="1.6"/><path d="M 74.88 12.92 L 79.98 23.63 M 78.45 11.39 L 84.06 23.12" stroke="#8FADEA" stroke-width="2"/></g>
<text x="2557.4" y="1492" font-family='"Liberation Mono", monospace' font-size="19.6" fill="#7B93DE" text-anchor="end" stroke="#7B93DE" stroke-width="0.6">2.25u</text>
<rect x="308" y="1512" width="200" height="96" rx="10" fill="#F5F5F5"/>
<rect x="322" y="1526" width="172" height="68" rx="5" fill="#FFFFFF"/>
<text x="408" y="1566.6" font-family='"Liberation Serif", serif' font-size="28" fill="#7B93DE" text-anchor="middle" stroke="#7B93DE" stroke-width="0.45">shift</text>
<text x="503.4" y="1596" font-family='"Liberation Mono", monospace' font-size="19.6" fill="#7B93DE" text-anchor="end" stroke="#7B93DE" stroke-width="0.6">2.00u</text>
<rect x="516" y="1512" width="122" height="96" rx="10" fill="#F5F5F5"/>
<rect x="530" y="1526" width="94" height="68" rx="5" fill="#FFFFFF"/>
<text x="577" y="1566.6" font-family='"Liberation Serif", serif' font-size="28" fill="#7B93DE" text-anchor="middle" stroke="#7B93DE" stroke-width="0.45">shift</text>
<text x="633.4" y="1596" font-family='"Liberation Mono", monospace' font-size="19.6" fill="#7B93DE" text-anchor="end" stroke="#7B93DE" stroke-width="0.6">1.25u</text>
<rect x="646" y="1512" width="96" height="96" rx="10" fill="#F5F5F5"/>
<rect x="660" y="1526" width="68" height="68" rx="5" fill="#FFFFFF"/>
<text x="694" y="1554.4" font-family='"Liberation Serif", serif' font-size="21" fill="#7B93DE" text-anchor="middle" stroke="#7B93DE" stroke-width="0.55">&lt;</text>
<text x="694" y="1579.4" font-family='"Liberation Serif", serif' font-size="21" fill="#7B93DE" text-anchor="middle" stroke="#7B93DE" stroke-width="0.55">&gt;</text>
<rect x="958" y="1512" width="96" height="96" rx="10" fill="#F5F5F5"/>
<rect x="972" y="1526" width="68" height="68" rx="5" fill="#FFFFFF"/>
<text x="1006" y="1568.5" font-family='"Liberation Serif", serif' font-size="35.5" fill="#7B93DE" text-anchor="middle" stroke="#7B93DE" stroke-width="0.45">b</text>
<rect x="1348" y="1512" width="226" height="96" rx="10" fill="#F5F5F5"/>
<rect x="1362" y="1526" width="198" height="68" rx="5" fill="#FFFFFF"/>
<text x="1461" y="1566.6" font-family='"Liberation Serif", serif' font-size="28" fill="#7B93DE" text-anchor="middle" stroke="#7B93DE" stroke-width="0.45">shift</text>
<text x="1569.4" y="1596" font-family='"Liberation Mono", monospace' font-size="19.6" fill="#7B93DE" text-anchor="end" stroke="#7B93DE" stroke-width="0.6">2.25u</text>
<rect x="1582" y="1512" width="174" height="96" rx="10" fill="#F5F5F5"/>
<rect x="1596" y="1526" width="146" height="68" rx="5" fill="#FFFFFF"/>
<text x="1669" y="1566.6" font-family='"Liberation Serif", serif' font-size="28" fill="#7B93DE" text-anchor="middle" stroke="#7B93DE" stroke-width="0.45">shift</text>
<text x="1751.4" y="1596" font-family='"Liberation Mono", monospace' font-size="19.6" fill="#7B93DE" text-anchor="end" stroke="#7B93DE" stroke-width="0.6">1.75u</text>
<rect x="1764" y="1512" width="96" height="96" rx="10" fill="#F5F5F5"/>
<rect x="1778" y="1526" width="68" height="68" rx="5" fill="#FFFFFF"/>
<text x="1812" y="1566.6" font-family='"Liberation Serif", serif' font-size="28" fill="#7B93DE" text-anchor="middle" stroke="#7B93DE" stroke-width="0.45">fn</text>
<rect x="1894" y="1512" width="96" height="96" rx="10" fill="#F5F5F5"/>
<rect x="1908" y="1526" width="68" height="68" rx="5" fill="#FFFFFF"/>
<text x="1942" y="1566.6" font-family='"Liberation Serif", serif' font-size="28" fill="#7B93DE" text-anchor="middle" stroke="#7B93DE" stroke-width="0.45">end</text>
<rect x="1998" y="1512" width="96" height="96" rx="10" fill="#F5F5F5"/>
<rect x="2012" y="1526" width="68" height="68" rx="5" fill="#FFFFFF"/>
<text x="2046" y="1566.6" font-family='"Liberation Serif", serif' font-size="28" fill="#7B93DE" text-anchor="middle" stroke="#7B93DE" stroke-width="0.45">down</text>
<rect x="2232" y="1512" width="96" height="96" rx="10" fill="#F5F5F5"/>
<rect x="2246" y="1526" width="68" height="68" rx="5" fill="#FFFFFF"/>
<g transform="translate(2280 1560)" fill="none" stroke-width="2" stroke-linecap="round" stroke-linejoin="round"><path d="M -16.03 12.63 C -17.44 14.5 -17.72 16.84 -16.78 18.24 C -16.03 19.27 -13.23 19.27 -7.61 18.9" stroke="#B197DE" stroke-width="1.8"/><path d="M 15.96 12.63 C 17.36 14.5 17.64 16.84 16.71 18.24 C 15.96 19.27 13.15 19.27 7.54 18.9" stroke="#B197DE" stroke-width="1.8"/><path d="M -0.13 19.64 C -7.61 18.71 -16.03 13.1 -22.11 8.89 C -25.2 6.55 -26.14 2.81 -24.45 0.47 C -23.52 -0.94 -22.11 -0.94 -21.09 -0.56 C -23.33 -2.81 -23.52 -6.08 -21.65 -8.23 C -20.15 -9.92 -18.28 -10.1 -16.78 -9.17 C -18.09 -11.69 -17.44 -14.97 -15.1 -16.18 C -12.76 -17.21 -10.61 -16.37 -9.02 -14.78 C -9.67 -17.59 -8.08 -20.11 -5.28 -20.39 C -2.75 -20.58 -0.88 -18.9 -0.04 -16.65" stroke="#8FADEA" stroke-width="2"/><path d="M 0.13 19.64 C 7.61 18.71 16.03 13.1 22.11 8.89 C 25.2 6.55 26.14 2.81 24.45 0.47 C 23.52 -0.94 22.11 -0.94 21.09 -0.56 C 23.33 -2.81 23.52 -6.08 21.65 -8.23 C 20.15 -9.92 18.28 -10.1 16.78 -9.17 C 18.09 -11.69 17.44 -14.97 15.1 -16.18 C 12.76 -17.21 10.61 -16.37 9.02 -14.78 C 9.67 -17.59 8.08 -20.11 5.28 -20.39 C 2.75 -20.58 0.88 -18.9 0.04 -16.65" stroke="#8FADEA" stroke-width="2"/><path d="M -0.04 -15.72 L -0.04 18.52" stroke="#FFE796" stroke-width="2.6"/><path d="M -8.92 -13.84 C -4.81 -5.61 -3.31 7.48 -2.94 17.77" stroke="#FFC594" stroke-width="2.2"/><path d="M 8.92 -13.84 C 4.81 -5.61 3.31 7.48 2.94 17.77" stroke="#FFC594" stroke-width="2.2"/><path d="M -16.41 -8.42 C -9.49 -1.87 -6.49 7.48 -6.49 16.84" stroke="#F297BE" stroke-width="2"/><path d="M 16.41 -8.42 C 9.49 -1.87 6.49 7.48 6.49 16.84" stroke="#F297BE" stroke-width="2"/><path d="M -20.15 0.47 C -14.16 4.68 -10.42 9.35 -9.3 14.22" stroke="#F4B0D9" stroke-width="2"/><path d="M 20.15 0.47 C 14.16 4.68 10.42 9.35 9.3 14.22" stroke="#F4B0D9" stroke-width="2"/></g>
<rect x="308" y="1616" width="148" height="96" rx="10" fill="#F5F5F5"/>
<rect x="322" y="1630" width="120" height="68" rx="5" fill="#FFFFFF"/>
<text x="382" y="1670.6" font-family='"Liberation Serif", serif' font-size="28" fill="#7B93DE" text-anchor="middle" stroke="#7B93DE" stroke-width="0.45">ctrl</text>
<text x="451.4" y="1700" font-family='"Liberation Mono", monospace' font-size="19.6" fill="#7B93DE" text-anchor="end" stroke="#7B93DE" stroke-width="0.6">1.50u</text>
<rect x="464" y="1616" width="96" height="96" rx="10" fill="#F5F5F5"/>
<rect x="478" y="1630" width="68" height="68" rx="5" fill="#FFFFFF"/>
<text x="512" y="1670.6" font-family='"Liberation Serif", serif' font-size="28" fill="#7B93DE" text-anchor="middle" stroke="#7B93DE" stroke-width="0.45">shine</text>
<rect x="568" y="1616" width="148" height="96" rx="10" fill="#F5F5F5"/>
<rect x="582" y="1630" width="120" height="68" rx="5" fill="#FFFFFF"/>
<text x="642" y="1670.6" font-family='"Liberation Serif", serif' font-size="28" fill="#7B93DE" text-anchor="middle" stroke="#7B93DE" stroke-width="0.45">alt</text>
<text x="711.4" y="1700" font-family='"Liberation Mono", monospace' font-size="19.6" fill="#7B93DE" text-anchor="end" stroke="#7B93DE" stroke-width="0.6">1.50u</text>
<rect x="724" y="1616" width="720" height="96" rx="10" fill="#F5F5F5"/>
<rect x="738" y="1630" width="692" height="68" rx="5" fill="#FFFFFF"/>
<text x="1439.4" y="1700" font-family='"Liberation Mono", monospace' font-size="19.6" fill="#7B93DE" text-anchor="end" stroke="#7B93DE" stroke-width="0.6">7.00c</text>
<rect x="1452" y="1616" width="148" height="96" rx="10" fill="#F5F5F5"/>
<rect x="1466" y="1630" width="120" height="68" rx="5" fill="#FFFFFF"/>
<text x="1526" y="1670.6" font-family='"Liberation Serif", serif' font-size="28" fill="#7B93DE" text-anchor="middle" stroke="#7B93DE" stroke-width="0.45">alt</text>
<text x="1595.4" y="1700" font-family='"Liberation Mono", monospace' font-size="19.6" fill="#7B93DE" text-anchor="end" stroke="#7B93DE" stroke-width="0.6">1.50u</text>
<rect x="1608" y="1616" width="96" height="96" rx="10" fill="#F5F5F5"/>
<rect x="1622" y="1630" width="68" height="68" rx="5" fill="#FFFFFF"/>
<text x="1656" y="1670.6" font-family='"Liberation Serif", serif' font-size="28" fill="#7B93DE" text-anchor="middle" stroke="#7B93DE" stroke-width="0.45">shine</text>
<rect x="1712" y="1616" width="148" height="96" rx="10" fill="#F5F5F5"/>
<rect x="1726" y="1630" width="120" height="68" rx="5" fill="#FFFFFF"/>
<text x="1786" y="1670.6" font-family='"Liberation Serif", serif' font-size="28" fill="#7B93DE" text-anchor="middle" stroke="#7B93DE" stroke-width="0.45">ctrl</text>
<text x="1855.4" y="1700" font-family='"Liberation Mono", monospace' font-size="19.6" fill="#7B93DE" text-anchor="end" stroke="#7B93DE" stroke-width="0.6">1.50u</text>
<rect x="2232" y="1616" width="96" height="96" rx="10" fill="#F5F5F5"/>
<rect x="2246" y="1630" width="68" height="68" rx="5" fill="#FFFFFF"/>
<g transform="translate(2280 1664)" fill="none" stroke-width="2" stroke-linecap="round" stroke-linejoin="round"><g transform="translate(0 -0.9) scale(1 0.912)"><path d="M-22.64 -15.4 A11.84 11.84 0 0 1 -3.32 -13.71" stroke="#F297BE" stroke-width="1.8"/><path d="M-21.18 1.27 A11.84 11.84 0 0 1 -22.64 -15.4" stroke="#FFC594" stroke-width="1.8"/><path d="M-2.45 -3.75 A11.84 11.84 0 0 1 -21.18 1.27" stroke="#FFE796" stroke-width="1.8"/><path d="M-20.88 -5.42 A8.98 8.98 0 0 1 -12.82 -15.93" stroke="#FFE796" stroke-width="2.2"/><circle cx="0.41" cy="4.24" r="20" stroke="#8FADEA" stroke-width="2.1"/><path d="M15.79 -18.75 A4.9 4.9 0 0 1 25.44 -17.05" stroke="#B197DE" stroke-width="1.8"/><path d="M25.44 -17.05 A4.9 4.9 0 0 1 15.79 -18.75" stroke="#F4B0D9" stroke-width="1.8"/><path d="M 20.61 -19.73 L 22.14 -17.69" stroke="#F297BE" stroke-width="1.6"/><path d="M -2.24 -7.8 C 1.22 -9.22 5.31 -8.41 8.16 -6.78 M -2.24 -7.8 C -3.88 -6.98 -3.67 -5.14 -1.63 -4.73 C 0.71 -4.94 2.76 -4.33 4.49 -3.31" stroke="#F297BE" stroke-width="2"/><path d="M 8.16 -6.78 C 11.94 -4.53 14.49 -1.27 15.31 2.2 M 4.49 -3.31 C 7.55 -1.67 9.8 0.98 10.41 4.24" stroke="#FFC594" stroke-width="2"/><path d="M 15.31 2.2 C 15.92 5.27 15.51 8.12 13.67 9.35 C 12.04 10.16 10.41 9.35 10.61 7.31 C 10.82 6.08 10.61 5.06 10.41 4.24" stroke="#FFE796" stroke-width="2.4"/><path d="M-11.85 10.78 A15.1 15.1 0 0 1 -12.46 -3.16" stroke="#B197DE" stroke-width="2"/><path d="M2.54 18.27 A15.1 15.1 0 0 1 -11.85 10.78" stroke="#F4B0D9" stroke-width="1.8"/></g></g>
<rect x="2336" y="1616" width="96" height="96" rx="10" fill="#F5F5F5"/>
<rect x="2350" y="1630" width="68" height="68" rx="5" fill="#FFFFFF"/>
<g transform="translate(2384 1664)" fill="none" stroke-width="2" stroke-linecap="round" stroke-linejoin="round"><g transform="translate(0 -0.9) scale(1 0.912)"><path d="M-22.64 -15.4 A11.84 11.84 0 0 1 -3.32 -13.71" stroke="#F297BE" stroke-width="1.8"/><path d="M-21.18 1.27 A11.84 11.84 0 0 1 -22.64 -15.4" stroke="#FFC594" stroke-width="1.8"/><path d="M-2.45 -3.75 A11.84 11.84 0 0 1 -21.18 1.27" stroke="#FFE796" stroke-width="1.8"/><path d="M-20.88 -5.42 A8.98 8.98 0 0 1 -12.82 -15.93" stroke="#FFE796" stroke-width="2.2"/><circle cx="0.41" cy="4.24" r="20" stroke="#8FADEA" stroke-width="2.1"/><path d="M15.79 -18.75 A4.9 4.9 0 0 1 25.44 -17.05" stroke="#B197DE" stroke-width="1.8"/><path d="M25.44 -17.05 A4.9 4.9 0 0 1 15.79 -18.75" stroke="#F4B0D9" stroke-width="1.8"/><path d="M 20.61 -19.73 L 22.14 -17.69" stroke="#F297BE" stroke-width="1.6"/><path d="M -2.24 -7.8 C 1.22 -9.22 5.31 -8.41 8.16 -6.78 M -2.24 -7.8 C -3.88 -6.98 -3.67 -5.14 -1.63 -4.73 C 0.71 -4.94 2.76 -4.33 4.49 -3.31" stroke="#F297BE" stroke-width="2"/><path d="M 8.16 -6.78 C 11.94 -4.53 14.49 -1.27 15.31 2.2 M 4.49 -3.31 C 7.55 -1.67 9.8 0.98 10.41 4.24" stroke="#FFC594" stroke-width="2"/><path d="M 15.31 2.2 C 15.92 5.27 15.51 8.12 13.67 9.35 C 12.04 10.16 10.41 9.35 10.61 7.31 C 10.82 6.08 10.61 5.06 10.41 4.24" stroke="#FFE796" stroke-width="2.4"/><path d="M-11.85 10.78 A15.1 15.1 0 0 1 -12.46 -3.16" stroke="#B197DE" stroke-width="2"/><path d="M2.54 18.27 A15.1 15.1 0 0 1 -11.85 10.78" stroke="#F4B0D9" stroke-width="1.8"/></g></g>
<rect x="2440" y="1616" width="122" height="96" rx="10" fill="#F5F5F5"/>
<rect x="2454" y="1630" width="94" height="68" rx="5" fill="#FFFFFF"/>
<g transform="translate(2501 1664)" fill="none" stroke-width="2" stroke-linecap="round" stroke-linejoin="round"><path d="M 12.33 13.43 C 11.14 1.52 9.95 -8 6.38 -14.9 C 2.81 -18.12 -3.14 -20.5 -6.71 -20.14 C -9.1 -18.71 -9.69 -15.74 -11.48 -12.76 C -13.26 -10.38 -13.86 -8 -12.67 -5.62 C -13.86 -3.24 -13.86 -0.86 -12.07 1.52 C -10.29 5.1 -6.12 6.88 -2.9 8.9" stroke="#8FADEA" stroke-width="2"/><path d="M 6.98 -15.14 C 11.14 -18.12 14.71 -20.14 18.29 -22.52 C 19.48 -22.29 20.07 -21.1 20.67 -19.9 C 24.24 -11.57 25.43 -4.43 23.64 1.52 C 21.86 7.48 18.29 11.64 13.76 13.67" stroke="#8FADEA" stroke-width="2"/><path d="M -2.55 8.9 C -6.71 6.29 -13.86 5.69 -18.62 8.07 C -20.4 9.26 -20.4 11.05 -21.6 12.24 C -23.98 14.02 -26.95 16.4 -27.19 18.19 C -26.36 19.98 -23.98 19.14 -21.6 17.6 C -16.24 19.38 -10.29 21.52 -6.12 21.52 C -0.76 21.17 5.19 18.19 11.14 15.21" stroke="#8FADEA" stroke-width="2"/><path d="M 5.79 22 C 10.55 18.79 14.95 15.81 19.95 13.67" stroke="#8FADEA" stroke-width="3"/><path d="M 19.48 12.48 C 23.05 11.05 26.02 10.57 28.76 10.57 M 19.71 13.9 C 23.64 13.67 27.21 14.38 29.6 15.57" stroke="#8FADEA" stroke-width="1.8"/><path d="M -5.52 -10.38 C 1.62 -5.62 6.98 2.71 9 11.64" stroke="#FFC594" stroke-width="2.2"/><path d="M -5.52 -0.86 C 0.43 -0.26 5.79 3.9 8.17 8.9" stroke="#FFE796" stroke-width="2.6"/><path d="M 4.6 -6.57 C 8.17 -0.86 9.71 3.9 9.95 8.9" stroke="#F297BE" stroke-width="2"/><path d="M -0.76 6.29 C 3.4 7.48 6.98 9.86 9 12.83" stroke="#FFC594" stroke-width="2.2"/><path d="M 18.29 -12.52 C 18.52 -5.62 17.33 1.52 14.71 6.88" stroke="#B197DE" stroke-width="2"/><path d="M 14.48 -7.4 C 15.67 -4.43 15.9 -1.45 15.43 1.52" stroke="#F4B0D9" stroke-width="1.8"/><path d="M -9.69 15.21 C -3.14 13.19 2.81 12.83 9 13.67" stroke="#F297BE" stroke-width="2"/><path d="M -2.55 16.76 C 1.62 14.86 5.19 14.14 9 14.14" stroke="#B197DE" stroke-width="1.8"/></g>
<text x="2557.4" y="1700" font-family='"Liberation Mono", monospace' font-size="19.6" fill="#7B93DE" text-anchor="end" stroke="#7B93DE" stroke-width="0.6">1.25u</text>
<rect x="2570" y="1616" width="122" height="96" rx="10" fill="#F5F5F5"/>
<rect x="2584" y="1630" width="94" height="68" rx="5" fill="#FFFFFF"/>
<g transform="translate(2633.2 1664) scale(-1 1)" fill="none" stroke-width="2" stroke-linecap="round" stroke-linejoin="round"><path d="M 12.33 13.43 C 11.14 1.52 9.95 -8 6.38 -14.9 C 2.81 -18.12 -3.14 -20.5 -6.71 -20.14 C -9.1 -18.71 -9.69 -15.74 -11.48 -12.76 C -13.26 -10.38 -13.86 -8 -12.67 -5.62 C -13.86 -3.24 -13.86 -0.86 -12.07 1.52 C -10.29 5.1 -6.12 6.88 -2.9 8.9" stroke="#8FADEA" stroke-width="2"/><path d="M 6.98 -15.14 C 11.14 -18.12 14.71 -20.14 18.29 -22.52 C 19.48 -22.29 20.07 -21.1 20.67 -19.9 C 24.24 -11.57 25.43 -4.43 23.64 1.52 C 21.86 7.48 18.29 11.64 13.76 13.67" stroke="#8FADEA" stroke-width="2"/><path d="M -2.55 8.9 C -6.71 6.29 -13.86 5.69 -18.62 8.07 C -20.4 9.26 -20.4 11.05 -21.6 12.24 C -23.98 14.02 -26.95 16.4 -27.19 18.19 C -26.36 19.98 -23.98 19.14 -21.6 17.6 C -16.24 19.38 -10.29 21.52 -6.12 21.52 C -0.76 21.17 5.19 18.19 11.14 15.21" stroke="#8FADEA" stroke-width="2"/><path d="M 5.79 22 C 10.55 18.79 14.95 15.81 19.95 13.67" stroke="#8FADEA" stroke-width="3"/><path d="M 19.48 12.48 C 23.05 11.05 26.02 10.57 28.76 10.57 M 19.71 13.9 C 23.64 13.67 27.21 14.38 29.6 15.57" stroke="#8FADEA" stroke-width="1.8"/><path d="M -5.52 -10.38 C 1.62 -5.62 6.98 2.71 9 11.64" stroke="#FFC594" stroke-width="2.2"/><path d="M -5.52 -0.86 C 0.43 -0.26 5.79 3.9 8.17 8.9" stroke="#FFE796" stroke-width="2.6"/><path d="M 4.6 -6.57 C 8.17 -0.86 9.71 3.9 9.95 8.9" stroke="#F297BE" stroke-width="2"/><path d="M -0.76 6.29 C 3.4 7.48 6.98 9.86 9 12.83" stroke="#FFC594" stroke-width="2.2"/><path d="M 18.29 -12.52 C 18.52 -5.62 17.33 1.52 14.71 6.88" stroke="#B197DE" stroke-width="2"/><path d="M 14.48 -7.4 C 15.67 -4.43 15.9 -1.45 15.43 1.52" stroke="#F4B0D9" stroke-width="1.8"/><path d="M -9.69 15.21 C -3.14 13.19 2.81 12.83 9 13.67" stroke="#F297BE" stroke-width="2"/><path d="M -2.55 16.76 C 1.62 14.86 5.19 14.14 9 14.14" stroke="#B197DE" stroke-width="1.8"/></g>
<text x="2687.4" y="1700" font-family='"Liberation Mono", monospace' font-size="19.6" fill="#7B93DE" text-anchor="end" stroke="#7B93DE" stroke-width="0.6">1.25u</text>
<rect x="360" y="1720" width="96" height="96" rx="10" fill="#F5F5F5"/>
<rect x="374" y="1734" width="68" height="68" rx="5" fill="#FFFFFF"/>
<text x="408" y="1774.6" font-family='"Liberation Serif", serif' font-size="28" fill="#7B93DE" text-anchor="middle" stroke="#7B93DE" stroke-width="0.45">ctrl</text>
<rect x="464" y="1720" width="96" height="96" rx="10" fill="#F5F5F5"/>
<rect x="478" y="1734" width="68" height="68" rx="5" fill="#FFFFFF"/>
<text x="512" y="1774.6" font-family='"Liberation Serif", serif' font-size="28" fill="#7B93DE" text-anchor="middle" stroke="#7B93DE" stroke-width="0.45">alt</text>
<rect x="568" y="1720" width="148" height="96" rx="10" fill="#F5F5F5"/>
<rect x="582" y="1734" width="120" height="68" rx="5" fill="#FFFFFF"/>
<text x="642" y="1774.6" font-family='"Liberation Serif", serif' font-size="28" fill="#7B93DE" text-anchor="middle" stroke="#7B93DE" stroke-width="0.45">shine</text>
<text x="711.4" y="1804" font-family='"Liberation Mono", monospace' font-size="19.6" fill="#7B93DE" text-anchor="end" stroke="#7B93DE" stroke-width="0.6">1.50u</text>
<rect x="724" y="1720" width="200" height="96" rx="10" fill="#F5F5F5"/>
<rect x="738" y="1734" width="172" height="68" rx="5" fill="#FFFFFF"/>
<text x="919.4" y="1804" font-family='"Liberation Mono", monospace' font-size="19.6" fill="#7B93DE" text-anchor="end" stroke="#7B93DE" stroke-width="0.6">2.00c</text>
<rect x="932" y="1720" width="226" height="96" rx="10" fill="#F5F5F5"/>
<rect x="946" y="1734" width="198" height="68" rx="5" fill="#FFFFFF"/>
<text x="1153.4" y="1804" font-family='"Liberation Mono", monospace' font-size="19.6" fill="#7B93DE" text-anchor="end" stroke="#7B93DE" stroke-width="0.6">2.25c</text>
<rect x="1166" y="1720" width="278" height="96" rx="10" fill="#F5F5F5"/>
<rect x="1180" y="1734" width="250" height="68" rx="5" fill="#FFFFFF"/>
<text x="1439.4" y="1804" font-family='"Liberation Mono", monospace' font-size="19.6" fill="#7B93DE" text-anchor="end" stroke="#7B93DE" stroke-width="0.6">2.75c</text>
<rect x="1452" y="1720" width="148" height="96" rx="10" fill="#F5F5F5"/>
<rect x="1466" y="1734" width="120" height="68" rx="5" fill="#FFFFFF"/>
<text x="1526" y="1774.6" font-family='"Liberation Serif", serif' font-size="28" fill="#7B93DE" text-anchor="middle" stroke="#7B93DE" stroke-width="0.45">shine</text>
<text x="1595.4" y="1804" font-family='"Liberation Mono", monospace' font-size="19.6" fill="#7B93DE" text-anchor="end" stroke="#7B93DE" stroke-width="0.6">1.50u</text>
<rect x="1608" y="1720" width="96" height="96" rx="10" fill="#F5F5F5"/>
<rect x="1622" y="1734" width="68" height="68" rx="5" fill="#FFFFFF"/>
<text x="1656" y="1774.6" font-family='"Liberation Serif", serif' font-size="28" fill="#7B93DE" text-anchor="middle" stroke="#7B93DE" stroke-width="0.45">alt</text>
<rect x="1712" y="1720" width="96" height="96" rx="10" fill="#F5F5F5"/>
<rect x="1726" y="1734" width="68" height="68" rx="5" fill="#FFFFFF"/>
<text x="1760" y="1774.6" font-family='"Liberation Serif", serif' font-size="28" fill="#7B93DE" text-anchor="middle" stroke="#7B93DE" stroke-width="0.45">ctrl</text>
<rect x="2232" y="1720" width="148" height="96" rx="10" fill="#F5F5F5"/>
<rect x="2246" y="1734" width="120" height="68" rx="5" fill="#FFFFFF"/>
<g transform="translate(2306 1768)" fill="none" stroke-width="2" stroke-linecap="round" stroke-linejoin="round"><path d="M -5.57 -2.93 C -6.72 -7.52 -8.63 -12.87 -10.93 -16.7 C -13.22 -20.14 -16.28 -21.67 -18.58 -21.67 C -20.87 -21.48 -22.4 -20.72 -24.7 -20.52 C -26.61 -20.14 -27.76 -18.61 -27.76 -16.7 C -28.91 -15.93 -30.44 -15.55 -30.82 -13.64 C -31.01 -10.58 -30.44 -7.52 -28.91 -5.22 C -28.14 -3.31 -27.38 -1.78 -26.23 -2.16 C -25.08 -2.54 -25.85 -4.46 -24.7 -5.22 C -23.17 -5.6 -22.4 -6.75 -21.25 -7.9 C -19.34 -9.43 -17.05 -10 -14.75 -9.81 C -11.69 -9.43 -9.78 -7.52 -8.82 -5.22 C -7.87 -2.16 -8.25 1.66 -9.4 4.72 C -10.16 7.79 -10.54 10.08 -11.69 11.99 C -13.22 14.67 -16.28 16.58 -19.34 16.97 C -21.25 17.16 -22.79 17.73 -22.98 18.88 C -22.79 20.41 -20.11 20.79 -17.05 20.03 C -13.22 19.26 -10.93 16.58 -8.63 14.29 C -5.57 12.38 -2.51 9.32 0.55 6.64 C 1.7 5.68 2.46 4.92 3.23 4.72" stroke="#8FADEA" stroke-width="1.8"/><path d="M -6.34 -5.22 L -5.76 7.4 L -3.66 6.64 C -1.36 5.68 0.93 4.92 3.23 4.72" stroke="#8FADEA" stroke-width="2.2"/><path d="M 3.23 4.72 C 5.91 4.92 9.35 6.25 11.26 8.55 C 12.41 9.7 13.18 10.08 12.41 11.23 C 11.26 12.38 12.03 13.14 13.56 13.91 C 15.47 15.05 17 16.2 17.38 18.11 C 17.38 20.03 17.38 21.56 18.53 21.37 C 19.68 20.41 21.97 19.64 24.27 18.88 C 26.56 18.11 28.86 16.97 29.24 14.67 C 28.09 13.52 27.71 12.38 28.86 11.61 C 30.77 10.46 30.77 8.55 29.24 7.02 C 27.71 5.87 26.56 4.34 26.18 2.81 C 25.03 0.52 22.74 -1.4 19.68 -1.78 C 17.77 -1.97 16.24 -1.78 15.09 -1.78" stroke="#8FADEA" stroke-width="1.8"/><path d="M 12.41 -16.32 C 14.71 -17.46 18.15 -18.61 21.21 -18.42 C 24.27 -18.23 26.18 -16.7 27.33 -15.17 C 28.48 -14.4 30.01 -14.02 30.77 -13.26 C 29.63 -12.11 28.09 -12.11 27.33 -11.34 C 27.71 -9.43 26.56 -7.52 24.65 -6.75 C 22.36 -6.37 20.44 -5.22 19.3 -3.69 C 18.53 -2.54 17.38 -1.97 15.47 -1.78" stroke="#8FADEA" stroke-width="1.8"/><path d="M -2.7 -20.91 C -4.04 -18.61 -4.8 -15.93 -4.04 -13.64 C -3.27 -11.34 -3.66 -9.05 -4.42 -5.99 C -5 -3.69 -5 -2.16 -4.42 -1.4 M -2.7 -20.91 L -0.21 -16.7 L 1.32 -15.17" stroke="#F4B0D9" stroke-width="1.6"/><path d="M 3.23 -17.85 C 0.17 -13.64 -3.27 -5.22 -3.66 3.96 M 3.23 -17.85 C 5.91 -14.02 7.05 -9.05 5.91 -5.22 C 5.14 -1.4 3.61 2.05 1.7 3.77" stroke="#F4B0D9" stroke-width="1.6"/><path d="M 10.88 -18.99 C 8.97 -17.46 7.44 -15.55 6.48 -13.26 M 10.88 -18.99 C 12.03 -15.93 12.79 -12.11 12.41 -7.52" stroke="#F4B0D9" stroke-width="1.6"/><path d="M 2.46 -10.96 C 1.32 -5.99 -0.21 -1.01 -2.13 3.19" stroke="#FFC594" stroke-width="1.8"/><path d="M -2.32 -14.79 L -2.82 -11.73 M 8.97 -11.34 C 8.58 -9.05 8.01 -7.13 7.25 -5.22" stroke="#FFE796" stroke-width="2.2"/><path d="M -10.54 -15.17 C -8.25 -14.79 -5.57 -12.87 -4.04 -10.58 M -8.63 -9.81 C -7.87 -8.28 -7.1 -7.52 -6.34 -6.75 M 7.05 -2.54 C 9.73 -3.69 12.79 -5.6 15.47 -5.99 C 15.47 -4.07 14.71 -1.78 13.56 -0.25 C 11.26 1.66 8.97 2.43 7.44 3.19 M 13.56 3.96 C 15.09 5.87 16.24 8.17 16.62 10.46" stroke="#B197DE" stroke-width="1.5"/><path d="M -21.64 -17.46 C -18.58 -17.85 -14.75 -17.08 -11.69 -15.93 M -25.85 -9.43 C -24.7 -12.87 -20.87 -15.17 -16.28 -15.55 C -13.99 -15.55 -12.46 -15.17 -11.31 -14.79" stroke="#F4B0D9" stroke-width="1.6"/><path d="M -19.34 -12.11 L -13.99 -12.87" stroke="#B197DE" stroke-width="1.2"/><path d="M 13.56 0.9 C 17.38 1.66 23.12 5.11 25.42 10.08 M 15.09 3.19 C 18.91 6.25 21.59 10.08 21.21 14.67" stroke="#F4B0D9" stroke-width="1.6"/><path d="M 13.94 -12.11 C 15.47 -14.02 17.77 -15.17 20.44 -15.55 M 13.56 -7.52 C 16.24 -8.66 18.91 -9.05 21.97 -9.24" stroke="#FFC594" stroke-width="1.8"/><path d="M 15.09 -9.81 C 18.15 -11.73 21.97 -12.87 25.8 -12.68" stroke="#FFE796" stroke-width="2.4"/></g>
<text x="2375.4" y="1804" font-family='"Liberation Mono", monospace' font-size="19.6" fill="#7B93DE" text-anchor="end" stroke="#7B93DE" stroke-width="0.6">1.50u</text>
<rect x="2388" y="1720" width="148" height="96" rx="10" fill="#F5F5F5"/>
<rect x="2402" y="1734" width="120" height="68" rx="5" fill="#FFFFFF"/>
<g transform="translate(2462 1768) scale(-1 1)" fill="none" stroke-width="2" stroke-linecap="round" stroke-linejoin="round"><path d="M -5.57 -2.93 C -6.72 -7.52 -8.63 -12.87 -10.93 -16.7 C -13.22 -20.14 -16.28 -21.67 -18.58 -21.67 C -20.87 -21.48 -22.4 -20.72 -24.7 -20.52 C -26.61 -20.14 -27.76 -18.61 -27.76 -16.7 C -28.91 -15.93 -30.44 -15.55 -30.82 -13.64 C -31.01 -10.58 -30.44 -7.52 -28.91 -5.22 C -28.14 -3.31 -27.38 -1.78 -26.23 -2.16 C -25.08 -2.54 -25.85 -4.46 -24.7 -5.22 C -23.17 -5.6 -22.4 -6.75 -21.25 -7.9 C -19.34 -9.43 -17.05 -10 -14.75 -9.81 C -11.69 -9.43 -9.78 -7.52 -8.82 -5.22 C -7.87 -2.16 -8.25 1.66 -9.4 4.72 C -10.16 7.79 -10.54 10.08 -11.69 11.99 C -13.22 14.67 -16.28 16.58 -19.34 16.97 C -21.25 17.16 -22.79 17.73 -22.98 18.88 C -22.79 20.41 -20.11 20.79 -17.05 20.03 C -13.22 19.26 -10.93 16.58 -8.63 14.29 C -5.57 12.38 -2.51 9.32 0.55 6.64 C 1.7 5.68 2.46 4.92 3.23 4.72" stroke="#8FADEA" stroke-width="1.8"/><path d="M -6.34 -5.22 L -5.76 7.4 L -3.66 6.64 C -1.36 5.68 0.93 4.92 3.23 4.72" stroke="#8FADEA" stroke-width="2.2"/><path d="M 3.23 4.72 C 5.91 4.92 9.35 6.25 11.26 8.55 C 12.41 9.7 13.18 10.08 12.41 11.23 C 11.26 12.38 12.03 13.14 13.56 13.91 C 15.47 15.05 17 16.2 17.38 18.11 C 17.38 20.03 17.38 21.56 18.53 21.37 C 19.68 20.41 21.97 19.64 24.27 18.88 C 26.56 18.11 28.86 16.97 29.24 14.67 C 28.09 13.52 27.71 12.38 28.86 11.61 C 30.77 10.46 30.77 8.55 29.24 7.02 C 27.71 5.87 26.56 4.34 26.18 2.81 C 25.03 0.52 22.74 -1.4 19.68 -1.78 C 17.77 -1.97 16.24 -1.78 15.09 -1.78" stroke="#8FADEA" stroke-width="1.8"/><path d="M 12.41 -16.32 C 14.71 -17.46 18.15 -18.61 21.21 -18.42 C 24.27 -18.23 26.18 -16.7 27.33 -15.17 C 28.48 -14.4 30.01 -14.02 30.77 -13.26 C 29.63 -12.11 28.09 -12.11 27.33 -11.34 C 27.71 -9.43 26.56 -7.52 24.65 -6.75 C 22.36 -6.37 20.44 -5.22 19.3 -3.69 C 18.53 -2.54 17.38 -1.97 15.47 -1.78" stroke="#8FADEA" stroke-width="1.8"/><path d="M -2.7 -20.91 C -4.04 -18.61 -4.8 -15.93 -4.04 -13.64 C -3.27 -11.34 -3.66 -9.05 -4.42 -5.99 C -5 -3.69 -5 -2.16 -4.42 -1.4 M -2.7 -20.91 L -0.21 -16.7 L 1.32 -15.17" stroke="#F4B0D9" stroke-width="1.6"/><path d="M 3.23 -17.85 C 0.17 -13.64 -3.27 -5.22 -3.66 3.96 M 3.23 -17.85 C 5.91 -14.02 7.05 -9.05 5.91 -5.22 C 5.14 -1.4 3.61 2.05 1.7 3.77" stroke="#F4B0D9" stroke-width="1.6"/><path d="M 10.88 -18.99 C 8.97 -17.46 7.44 -15.55 6.48 -13.26 M 10.88 -18.99 C 12.03 -15.93 12.79 -12.11 12.41 -7.52" stroke="#F4B0D9" stroke-width="1.6"/><path d="M 2.46 -10.96 C 1.32 -5.99 -0.21 -1.01 -2.13 3.19" stroke="#FFC594" stroke-width="1.8"/><path d="M -2.32 -14.79 L -2.82 -11.73 M 8.97 -11.34 C 8.58 -9.05 8.01 -7.13 7.25 -5.22" stroke="#FFE796" stroke-width="2.2"/><path d="M -10.54 -15.17 C -8.25 -14.79 -5.57 -12.87 -4.04 -10.58 M -8.63 -9.81 C -7.87 -8.28 -7.1 -7.52 -6.34 -6.75 M 7.05 -2.54 C 9.73 -3.69 12.79 -5.6 15.47 -5.99 C 15.47 -4.07 14.71 -1.78 13.56 -0.25 C 11.26 1.66 8.97 2.43 7.44 3.19 M 13.56 3.96 C 15.09 5.87 16.24 8.17 16.62 10.46" stroke="#B197DE" stroke-width="1.5"/><path d="M -21.64 -17.46 C -18.58 -17.85 -14.75 -17.08 -11.69 -15.93 M -25.85 -9.43 C -24.7 -12.87 -20.87 -15.17 -16.28 -15.55 C -13.99 -15.55 -12.46 -15.17 -11.31 -14.79" stroke="#F4B0D9" stroke-width="1.6"/><path d="M -19.34 -12.11 L -13.99 -12.87" stroke="#B197DE" stroke-width="1.2"/><path d="M 13.56 0.9 C 17.38 1.66 23.12 5.11 25.42 10.08 M 15.09 3.19 C 18.91 6.25 21.59 10.08 21.21 14.67" stroke="#F4B0D9" stroke-width="1.6"/><path d="M 13.94 -12.11 C 15.47 -14.02 17.77 -15.17 20.44 -15.55 M 13.56 -7.52 C 16.24 -8.66 18.91 -9.05 21.97 -9.24" stroke="#FFC594" stroke-width="1.8"/><path d="M 15.09 -9.81 C 18.15 -11.73 21.97 -12.87 25.8 -12.68" stroke="#FFE796" stroke-width="2.4"/></g>
<text x="2531.4" y="1804" font-family='"Liberation Mono", monospace' font-size="19.6" fill="#7B93DE" text-anchor="end" stroke="#7B93DE" stroke-width="0.6">1.50u</text>
<rect x="297" y="409" width="1912" height="118" rx="8" fill="none" stroke="rgba(114,119,140,0.5)" stroke-width="4"/>
<rect x="2221" y="409" width="118" height="118" rx="8" fill="none" stroke="rgba(114,119,140,0.5)" stroke-width="4"/>
<rect x="297" y="1189" width="118" height="118" rx="8" fill="none" stroke="rgba(114,119,140,0.5)" stroke-width="4"/>
<rect x="1545" y="1189" width="118" height="118" rx="8" fill="none" stroke="rgba(114,119,140,0.5)" stroke-width="4"/>
<rect x="2450" y="537" width="297.5" height="117.5" rx="1.5" fill="#FDFDFD"/>
<rect x="2460.5" y="547.5" width="14" height="14" rx="0.6" fill="#96B2EA" stroke="#7C9BDE" stroke-width="1"/>
<rect x="2490.5" y="547.5" width="14" height="14" rx="0.6" fill="#96B2EA" stroke="#7C9BDE" stroke-width="1"/>
<rect x="2505.5" y="547.5" width="14" height="14" rx="0.6" fill="#96B2EA" stroke="#7C9BDE" stroke-width="1"/>
<rect x="2520.5" y="547.5" width="14" height="14" rx="0.6" fill="#B29CE0" stroke="#A994D9" stroke-width="1"/>
<rect x="2535.5" y="547.5" width="14" height="14" rx="0.6" fill="#B29CE0" stroke="#A994D9" stroke-width="1"/>
<rect x="2558" y="547.5" width="14" height="14" rx="0.6" fill="#F4B3DC" stroke="#E9A6D6" stroke-width="1"/>
<rect x="2573" y="547.5" width="14" height="14" rx="0.6" fill="#F4B3DC" stroke="#E9A6D6" stroke-width="1"/>
<rect x="2588" y="547.5" width="14" height="14" rx="0.6" fill="#F4A5C6" stroke="#F09EBB" stroke-width="1"/>
<rect x="2603" y="547.5" width="14" height="14" rx="0.6" fill="#F4A5C6" stroke="#F09EBB" stroke-width="1"/>
<rect x="2625.5" y="547.5" width="14" height="14" rx="0.6" fill="#FFCB9E" stroke="#EFB98B" stroke-width="1"/>
<rect x="2640.5" y="547.5" width="14" height="14" rx="0.6" fill="#FFCB9E" stroke="#EFB98B" stroke-width="1"/>
<rect x="2655.5" y="547.5" width="14" height="14" rx="0.6" fill="#FFEBA3" stroke="#F1DE98" stroke-width="1"/>
<rect x="2670.5" y="547.5" width="14" height="14" rx="0.6" fill="#FFEBA3" stroke="#F1DE98" stroke-width="1"/>
<rect x="2693" y="547.5" width="14" height="14" rx="0.6" fill="#FFEBA3" stroke="#F1DE98" stroke-width="1"/>
<rect x="2708" y="547.5" width="14" height="14" rx="0.6" fill="#FFCB9E" stroke="#EFB98B" stroke-width="1"/>
<rect x="2723" y="547.5" width="14" height="14" rx="0.6" fill="#F4A5C6" stroke="#F09EBB" stroke-width="1"/>
<rect x="2460.5" y="570" width="14" height="14" rx="0.6" fill="#FFFFFF" stroke="#E9E9EC" stroke-width="1"/>
<rect x="2475.5" y="570" width="14" height="14" rx="0.6" fill="#FFFFFF" stroke="#E9E9EC" stroke-width="1"/>
<rect x="2490.5" y="570" width="14" height="14" rx="0.6" fill="#FFFFFF" stroke="#E9E9EC" stroke-width="1"/>
<rect x="2505.5" y="570" width="14" height="14" rx="0.6" fill="#FFFFFF" stroke="#E9E9EC" stroke-width="1"/>
<rect x="2520.5" y="570" width="14" height="14" rx="0.6" fill="#FFFFFF" stroke="#E9E9EC" stroke-width="1"/>
<rect x="2535.5" y="570" width="14" height="14" rx="0.6" fill="#FFFFFF" stroke="#E9E9EC" stroke-width="1"/>
<rect x="2550.5" y="570" width="14" height="14" rx="0.6" fill="#FFFFFF" stroke="#E9E9EC" stroke-width="1"/>
<rect x="2565.5" y="570" width="14" height="14" rx="0.6" fill="#FFFFFF" stroke="#E9E9EC" stroke-width="1"/>
<rect x="2580.5" y="570" width="14" height="14" rx="0.6" fill="#FFFFFF" stroke="#E9E9EC" stroke-width="1"/>
<rect x="2595.5" y="570" width="14" height="14" rx="0.6" fill="#FFFFFF" stroke="#E9E9EC" stroke-width="1"/>
<rect x="2610.5" y="570" width="14" height="14" rx="0.6" fill="#FFFFFF" stroke="#E9E9EC" stroke-width="1"/>
<rect x="2625.5" y="570" width="14" height="14" rx="0.6" fill="#FFFFFF" stroke="#E9E9EC" stroke-width="1"/>
<rect x="2640.5" y="570" width="14" height="14" rx="0.6" fill="#FFFFFF" stroke="#E9E9EC" stroke-width="1"/>
<rect x="2655.5" y="570" width="29" height="14" rx="0.6" fill="#FFFFFF" stroke="#E9E9EC" stroke-width="1"/>
<rect x="2460.5" y="585" width="21.5" height="14" rx="0.6" fill="#FFFFFF" stroke="#E9E9EC" stroke-width="1"/>
<rect x="2483" y="585" width="14" height="14" rx="0.6" fill="#FFFFFF" stroke="#E9E9EC" stroke-width="1"/>
<rect x="2498" y="585" width="14" height="14" rx="0.6" fill="#FFFFFF" stroke="#E9E9EC" stroke-width="1"/>
<rect x="2513" y="585" width="14" height="14" rx="0.6" fill="#FFFFFF" stroke="#E9E9EC" stroke-width="1"/>
<rect x="2528" y="585" width="14" height="14" rx="0.6" fill="#FFFFFF" stroke="#E9E9EC" stroke-width="1"/>
<rect x="2543" y="585" width="14" height="14" rx="0.6" fill="#FFFFFF" stroke="#E9E9EC" stroke-width="1"/>
<rect x="2558" y="585" width="14" height="14" rx="0.6" fill="#FFFFFF" stroke="#E9E9EC" stroke-width="1"/>
<rect x="2573" y="585" width="14" height="14" rx="0.6" fill="#FFFFFF" stroke="#E9E9EC" stroke-width="1"/>
<rect x="2588" y="585" width="14" height="14" rx="0.6" fill="#FFFFFF" stroke="#E9E9EC" stroke-width="1"/>
<rect x="2603" y="585" width="14" height="14" rx="0.6" fill="#FFFFFF" stroke="#E9E9EC" stroke-width="1"/>
<rect x="2618" y="585" width="14" height="14" rx="0.6" fill="#FFFFFF" stroke="#E9E9EC" stroke-width="1"/>
<rect x="2633" y="585" width="14" height="14" rx="0.6" fill="#FFFFFF" stroke="#E9E9EC" stroke-width="1"/>
<rect x="2648" y="585" width="14" height="14" rx="0.6" fill="#FFFFFF" stroke="#E9E9EC" stroke-width="1"/>
<rect x="2663" y="585" width="21.5" height="14" rx="0.6" fill="#FFFFFF" stroke="#E9E9EC" stroke-width="1"/>
<rect x="2460.5" y="600" width="25.25" height="14" rx="0.6" fill="#FFFFFF" stroke="#E9E9EC" stroke-width="1"/>
<rect x="2486.75" y="600" width="14" height="14" rx="0.6" fill="#FFFFFF" stroke="#E9E9EC" stroke-width="1"/>
<rect x="2501.75" y="600" width="14" height="14" rx="0.6" fill="#FFFFFF" stroke="#E9E9EC" stroke-width="1"/>
<rect x="2516.75" y="600" width="14" height="14" rx="0.6" fill="#FFFFFF" stroke="#E9E9EC" stroke-width="1"/>
<rect x="2531.75" y="600" width="14" height="14" rx="0.6" fill="#FFFFFF" stroke="#E9E9EC" stroke-width="1"/>
<rect x="2546.75" y="600" width="14" height="14" rx="0.6" fill="#FFFFFF" stroke="#E9E9EC" stroke-width="1"/>
<rect x="2561.75" y="600" width="14" height="14" rx="0.6" fill="#FFFFFF" stroke="#E9E9EC" stroke-width="1"/>
<rect x="2576.75" y="600" width="14" height="14" rx="0.6" fill="#FFFFFF" stroke="#E9E9EC" stroke-width="1"/>
<rect x="2591.75" y="600" width="14" height="14" rx="0.6" fill="#FFFFFF" stroke="#E9E9EC" stroke-width="1"/>
<rect x="2606.75" y="600" width="14" height="14" rx="0.6" fill="#FFFFFF" stroke="#E9E9EC" stroke-width="1"/>
<rect x="2621.75" y="600" width="14" height="14" rx="0.6" fill="#FFFFFF" stroke="#E9E9EC" stroke-width="1"/>
<rect x="2636.75" y="600" width="14" height="14" rx="0.6" fill="#FFFFFF" stroke="#E9E9EC" stroke-width="1"/>
<rect x="2651.75" y="600" width="32.75" height="14" rx="0.6" fill="#FFFFFF" stroke="#E9E9EC" stroke-width="1"/>
<rect x="2460.5" y="615" width="32.75" height="14" rx="0.6" fill="#FFFFFF" stroke="#E9E9EC" stroke-width="1"/>
<rect x="2494.25" y="615" width="14" height="14" rx="0.6" fill="#FFFFFF" stroke="#E9E9EC" stroke-width="1"/>
<rect x="2509.25" y="615" width="14" height="14" rx="0.6" fill="#FFFFFF" stroke="#E9E9EC" stroke-width="1"/>
<rect x="2524.25" y="615" width="14" height="14" rx="0.6" fill="#FFFFFF" stroke="#E9E9EC" stroke-width="1"/>
<rect x="2539.25" y="615" width="14" height="14" rx="0.6" fill="#FFFFFF" stroke="#E9E9EC" stroke-width="1"/>
<rect x="2554.25" y="615" width="14" height="14" rx="0.6" fill="#FFFFFF" stroke="#E9E9EC" stroke-width="1"/>
<rect x="2569.25" y="615" width="14" height="14" rx="0.6" fill="#FFFFFF" stroke="#E9E9EC" stroke-width="1"/>
<rect x="2584.25" y="615" width="14" height="14" rx="0.6" fill="#FFFFFF" stroke="#E9E9EC" stroke-width="1"/>
<rect x="2599.25" y="615" width="14" height="14" rx="0.6" fill="#FFFFFF" stroke="#E9E9EC" stroke-width="1"/>
<rect x="2614.25" y="615" width="14" height="14" rx="0.6" fill="#FFFFFF" stroke="#E9E9EC" stroke-width="1"/>
<rect x="2629.25" y="615" width="14" height="14" rx="0.6" fill="#FFFFFF" stroke="#E9E9EC" stroke-width="1"/>
<rect x="2644.25" y="615" width="40.25" height="14" rx="0.6" fill="#FFFFFF" stroke="#E9E9EC" stroke-width="1"/>
<rect x="2460.5" y="630" width="17.75" height="14" rx="0.6" fill="#FFFFFF" stroke="#E9E9EC" stroke-width="1"/>
<rect x="2479.25" y="630" width="17.75" height="14" rx="0.6" fill="#FFFFFF" stroke="#E9E9EC" stroke-width="1"/>
<rect x="2498" y="630" width="17.75" height="14" rx="0.6" fill="#FFFFFF" stroke="#E9E9EC" stroke-width="1"/>
<rect x="2516.75" y="630" width="92.75" height="14" rx="0.6" fill="#FFFFFF" stroke="#E9E9EC" stroke-width="1"/>
<rect x="2610.5" y="630" width="17.75" height="14" rx="0.6" fill="#FFFFFF" stroke="#E9E9EC" stroke-width="1"/>
<rect x="2629.25" y="630" width="17.75" height="14" rx="0.6" fill="#FFFFFF" stroke="#E9E9EC" stroke-width="1"/>
<rect x="2648" y="630" width="17.75" height="14" rx="0.6" fill="#FFFFFF" stroke="#E9E9EC" stroke-width="1"/>
<rect x="2666.75" y="630" width="17.75" height="14" rx="0.6" fill="#FFFFFF" stroke="#E9E9EC" stroke-width="1"/>
<rect x="2693" y="570" width="14" height="14" rx="0.6" fill="#FFFFFF" stroke="#E9E9EC" stroke-width="1"/>
<rect x="2708" y="570" width="14" height="14" rx="0.6" fill="#FFFFFF" stroke="#E9E9EC" stroke-width="1"/>
<rect x="2723" y="570" width="14" height="14" rx="0.6" fill="#FFFFFF" stroke="#E9E9EC" stroke-width="1"/>
<rect x="2693" y="585" width="14" height="14" rx="0.6" fill="#FFFFFF" stroke="#E9E9EC" stroke-width="1"/>
<rect x="2708" y="585" width="14" height="14" rx="0.6" fill="#FFFFFF" stroke="#E9E9EC" stroke-width="1"/>
<rect x="2723" y="585" width="14" height="14" rx="0.6" fill="#FFFFFF" stroke="#E9E9EC" stroke-width="1"/>
<rect x="2708" y="615" width="14" height="14" rx="0.6" fill="#FFFFFF" stroke="#E9E9EC" stroke-width="1"/>
<rect x="2693" y="630" width="14" height="14" rx="0.6" fill="#FFFFFF" stroke="#E9E9EC" stroke-width="1"/>
<rect x="2708" y="630" width="14" height="14" rx="0.6" fill="#FFFFFF" stroke="#E9E9EC" stroke-width="1"/>
<rect x="2723" y="630" width="14" height="14" rx="0.6" fill="#FFFFFF" stroke="#E9E9EC" stroke-width="1"/>
<rect x="2450" y="730" width="297.5" height="117.5" rx="1.5" fill="#FDFDFD"/>
<rect x="2460.5" y="740.5" width="14" height="14" rx="0.6" fill="#96B2EA" stroke="#7C9BDE" stroke-width="1"/>
<rect x="2479.25" y="740.5" width="14" height="14" rx="0.6" fill="#96B2EA" stroke="#7C9BDE" stroke-width="1"/>
<rect x="2494.25" y="740.5" width="14" height="14" rx="0.6" fill="#96B2EA" stroke="#7C9BDE" stroke-width="1"/>
<rect x="2509.25" y="740.5" width="14" height="14" rx="0.6" fill="#B29CE0" stroke="#A994D9" stroke-width="1"/>
<rect x="2524.25" y="740.5" width="14" height="14" rx="0.6" fill="#B29CE0" stroke="#A994D9" stroke-width="1"/>
<rect x="2543" y="740.5" width="14" height="14" rx="0.6" fill="#F4B3DC" stroke="#E9A6D6" stroke-width="1"/>
<rect x="2558" y="740.5" width="14" height="14" rx="0.6" fill="#F4B3DC" stroke="#E9A6D6" stroke-width="1"/>
<rect x="2573" y="740.5" width="14" height="14" rx="0.6" fill="#F4A5C6" stroke="#F09EBB" stroke-width="1"/>
<rect x="2588" y="740.5" width="14" height="14" rx="0.6" fill="#F4A5C6" stroke="#F09EBB" stroke-width="1"/>
<rect x="2606.75" y="740.5" width="14" height="14" rx="0.6" fill="#FFCB9E" stroke="#EFB98B" stroke-width="1"/>
<rect x="2621.75" y="740.5" width="14" height="14" rx="0.6" fill="#FFCB9E" stroke="#EFB98B" stroke-width="1"/>
<rect x="2636.75" y="740.5" width="14" height="14" rx="0.6" fill="#FFEBA3" stroke="#F1DE98" stroke-width="1"/>
<rect x="2651.75" y="740.5" width="14" height="14" rx="0.6" fill="#FFEBA3" stroke="#F1DE98" stroke-width="1"/>
<rect x="2670.5" y="740.5" width="14" height="14" rx="0.6" fill="#FFEBA3" stroke="#F1DE98" stroke-width="1"/>
<rect x="2693" y="740.5" width="14" height="14" rx="0.6" fill="#FFCB9E" stroke="#EFB98B" stroke-width="1"/>
<rect x="2708" y="740.5" width="14" height="14" rx="0.6" fill="#F4A5C6" stroke="#F09EBB" stroke-width="1"/>
<rect x="2723" y="740.5" width="14" height="14" rx="0.6" fill="#F4B3DC" stroke="#E9A6D6" stroke-width="1"/>
<rect x="2460.5" y="763" width="14" height="14" rx="0.6" fill="#FFFFFF" stroke="#E9E9EC" stroke-width="1"/>
<rect x="2475.5" y="763" width="14" height="14" rx="0.6" fill="#FFFFFF" stroke="#E9E9EC" stroke-width="1"/>
<rect x="2490.5" y="763" width="14" height="14" rx="0.6" fill="#FFFFFF" stroke="#E9E9EC" stroke-width="1"/>
<rect x="2505.5" y="763" width="14" height="14" rx="0.6" fill="#FFFFFF" stroke="#E9E9EC" stroke-width="1"/>
<rect x="2520.5" y="763" width="14" height="14" rx="0.6" fill="#FFFFFF" stroke="#E9E9EC" stroke-width="1"/>
<rect x="2535.5" y="763" width="14" height="14" rx="0.6" fill="#FFFFFF" stroke="#E9E9EC" stroke-width="1"/>
<rect x="2550.5" y="763" width="14" height="14" rx="0.6" fill="#FFFFFF" stroke="#E9E9EC" stroke-width="1"/>
<rect x="2565.5" y="763" width="14" height="14" rx="0.6" fill="#FFFFFF" stroke="#E9E9EC" stroke-width="1"/>
<rect x="2580.5" y="763" width="14" height="14" rx="0.6" fill="#FFFFFF" stroke="#E9E9EC" stroke-width="1"/>
<rect x="2595.5" y="763" width="14" height="14" rx="0.6" fill="#FFFFFF" stroke="#E9E9EC" stroke-width="1"/>
<rect x="2610.5" y="763" width="14" height="14" rx="0.6" fill="#FFFFFF" stroke="#E9E9EC" stroke-width="1"/>
<rect x="2625.5" y="763" width="14" height="14" rx="0.6" fill="#FFFFFF" stroke="#E9E9EC" stroke-width="1"/>
<rect x="2640.5" y="763" width="14" height="14" rx="0.6" fill="#FFFFFF" stroke="#E9E9EC" stroke-width="1"/>
<rect x="2655.5" y="763" width="29" height="14" rx="0.6" fill="#FFFFFF" stroke="#E9E9EC" stroke-width="1"/>
<rect x="2460.5" y="778" width="21.5" height="14" rx="0.6" fill="#FFFFFF" stroke="#E9E9EC" stroke-width="1"/>
<rect x="2483" y="778" width="14" height="14" rx="0.6" fill="#FFFFFF" stroke="#E9E9EC" stroke-width="1"/>
<rect x="2498" y="778" width="14" height="14" rx="0.6" fill="#FFFFFF" stroke="#E9E9EC" stroke-width="1"/>
<rect x="2513" y="778" width="14" height="14" rx="0.6" fill="#FFFFFF" stroke="#E9E9EC" stroke-width="1"/>
<rect x="2528" y="778" width="14" height="14" rx="0.6" fill="#FFFFFF" stroke="#E9E9EC" stroke-width="1"/>
<rect x="2543" y="778" width="14" height="14" rx="0.6" fill="#FFFFFF" stroke="#E9E9EC" stroke-width="1"/>
<rect x="2558" y="778" width="14" height="14" rx="0.6" fill="#FFFFFF" stroke="#E9E9EC" stroke-width="1"/>
<rect x="2573" y="778" width="14" height="14" rx="0.6" fill="#FFFFFF" stroke="#E9E9EC" stroke-width="1"/>
<rect x="2588" y="778" width="14" height="14" rx="0.6" fill="#FFFFFF" stroke="#E9E9EC" stroke-width="1"/>
<rect x="2603" y="778" width="14" height="14" rx="0.6" fill="#FFFFFF" stroke="#E9E9EC" stroke-width="1"/>
<rect x="2618" y="778" width="14" height="14" rx="0.6" fill="#FFFFFF" stroke="#E9E9EC" stroke-width="1"/>
<rect x="2633" y="778" width="14" height="14" rx="0.6" fill="#FFFFFF" stroke="#E9E9EC" stroke-width="1"/>
<rect x="2648" y="778" width="14" height="14" rx="0.6" fill="#FFFFFF" stroke="#E9E9EC" stroke-width="1"/>
<rect x="2663" y="778" width="21.5" height="14" rx="0.6" fill="#FFFFFF" stroke="#E9E9EC" stroke-width="1"/>
<rect x="2460.5" y="793" width="25.25" height="14" rx="0.6" fill="#FFFFFF" stroke="#E9E9EC" stroke-width="1"/>
<rect x="2486.75" y="793" width="14" height="14" rx="0.6" fill="#FFFFFF" stroke="#E9E9EC" stroke-width="1"/>
<rect x="2501.75" y="793" width="14" height="14" rx="0.6" fill="#FFFFFF" stroke="#E9E9EC" stroke-width="1"/>
<rect x="2516.75" y="793" width="14" height="14" rx="0.6" fill="#FFFFFF" stroke="#E9E9EC" stroke-width="1"/>
<rect x="2531.75" y="793" width="14" height="14" rx="0.6" fill="#FFFFFF" stroke="#E9E9EC" stroke-width="1"/>
<rect x="2546.75" y="793" width="14" height="14" rx="0.6" fill="#FFFFFF" stroke="#E9E9EC" stroke-width="1"/>
<rect x="2561.75" y="793" width="14" height="14" rx="0.6" fill="#FFFFFF" stroke="#E9E9EC" stroke-width="1"/>
<rect x="2576.75" y="793" width="14" height="14" rx="0.6" fill="#FFFFFF" stroke="#E9E9EC" stroke-width="1"/>
<rect x="2591.75" y="793" width="14" height="14" rx="0.6" fill="#FFFFFF" stroke="#E9E9EC" stroke-width="1"/>
<rect x="2606.75" y="793" width="14" height="14" rx="0.6" fill="#FFFFFF" stroke="#E9E9EC" stroke-width="1"/>
<rect x="2621.75" y="793" width="14" height="14" rx="0.6" fill="#FFFFFF" stroke="#E9E9EC" stroke-width="1"/>
<rect x="2636.75" y="793" width="14" height="14" rx="0.6" fill="#FFFFFF" stroke="#E9E9EC" stroke-width="1"/>
<rect x="2651.75" y="793" width="32.75" height="14" rx="0.6" fill="#FFFFFF" stroke="#E9E9EC" stroke-width="1"/>
<rect x="2460.5" y="808" width="32.75" height="14" rx="0.6" fill="#FFFFFF" stroke="#E9E9EC" stroke-width="1"/>
<rect x="2494.25" y="808" width="14" height="14" rx="0.6" fill="#FFFFFF" stroke="#E9E9EC" stroke-width="1"/>
<rect x="2509.25" y="808" width="14" height="14" rx="0.6" fill="#FFFFFF" stroke="#E9E9EC" stroke-width="1"/>
<rect x="2524.25" y="808" width="14" height="14" rx="0.6" fill="#FFFFFF" stroke="#E9E9EC" stroke-width="1"/>
<rect x="2539.25" y="808" width="14" height="14" rx="0.6" fill="#FFFFFF" stroke="#E9E9EC" stroke-width="1"/>
<rect x="2554.25" y="808" width="14" height="14" rx="0.6" fill="#FFFFFF" stroke="#E9E9EC" stroke-width="1"/>
<rect x="2569.25" y="808" width="14" height="14" rx="0.6" fill="#FFFFFF" stroke="#E9E9EC" stroke-width="1"/>
<rect x="2584.25" y="808" width="14" height="14" rx="0.6" fill="#FFFFFF" stroke="#E9E9EC" stroke-width="1"/>
<rect x="2599.25" y="808" width="14" height="14" rx="0.6" fill="#FFFFFF" stroke="#E9E9EC" stroke-width="1"/>
<rect x="2614.25" y="808" width="14" height="14" rx="0.6" fill="#FFFFFF" stroke="#E9E9EC" stroke-width="1"/>
<rect x="2629.25" y="808" width="14" height="14" rx="0.6" fill="#FFFFFF" stroke="#E9E9EC" stroke-width="1"/>
<rect x="2644.25" y="808" width="40.25" height="14" rx="0.6" fill="#FFFFFF" stroke="#E9E9EC" stroke-width="1"/>
<rect x="2460.5" y="823" width="17.75" height="14" rx="0.6" fill="#FFFFFF" stroke="#E9E9EC" stroke-width="1"/>
<rect x="2479.25" y="823" width="17.75" height="14" rx="0.6" fill="#FFFFFF" stroke="#E9E9EC" stroke-width="1"/>
<rect x="2498" y="823" width="17.75" height="14" rx="0.6" fill="#FFFFFF" stroke="#E9E9EC" stroke-width="1"/>
<rect x="2516.75" y="823" width="92.75" height="14" rx="0.6" fill="#FFFFFF" stroke="#E9E9EC" stroke-width="1"/>
<rect x="2610.5" y="823" width="17.75" height="14" rx="0.6" fill="#FFFFFF" stroke="#E9E9EC" stroke-width="1"/>
<rect x="2629.25" y="823" width="17.75" height="14" rx="0.6" fill="#FFFFFF" stroke="#E9E9EC" stroke-width="1"/>
<rect x="2648" y="823" width="17.75" height="14" rx="0.6" fill="#FFFFFF" stroke="#E9E9EC" stroke-width="1"/>
<rect x="2666.75" y="823" width="17.75" height="14" rx="0.6" fill="#FFFFFF" stroke="#E9E9EC" stroke-width="1"/>
<rect x="2693" y="763" width="14" height="14" rx="0.6" fill="#FFFFFF" stroke="#E9E9EC" stroke-width="1"/>
<rect x="2708" y="763" width="14" height="14" rx="0.6" fill="#FFFFFF" stroke="#E9E9EC" stroke-width="1"/>
<rect x="2723" y="763" width="14" height="14" rx="0.6" fill="#FFFFFF" stroke="#E9E9EC" stroke-width="1"/>
<rect x="2693" y="778" width="14" height="14" rx="0.6" fill="#FFFFFF" stroke="#E9E9EC" stroke-width="1"/>
<rect x="2708" y="778" width="14" height="14" rx="0.6" fill="#FFFFFF" stroke="#E9E9EC" stroke-width="1"/>
<rect x="2723" y="778" width="14" height="14" rx="0.6" fill="#FFFFFF" stroke="#E9E9EC" stroke-width="1"/>
<rect x="2708" y="808" width="14" height="14" rx="0.6" fill="#FFFFFF" stroke="#E9E9EC" stroke-width="1"/>
<rect x="2693" y="823" width="14" height="14" rx="0.6" fill="#FFFFFF" stroke="#E9E9EC" stroke-width="1"/>
<rect x="2708" y="823" width="14" height="14" rx="0.6" fill="#FFFFFF" stroke="#E9E9EC" stroke-width="1"/>
<rect x="2723" y="823" width="14" height="14" rx="0.6" fill="#FFFFFF" stroke="#E9E9EC" stroke-width="1"/>
<path d="M2596 679 h4 v16 h4 l-6 12.4 l-6 -12.4 h4 z" fill="#737A90"/>
</svg>
</body></html>
